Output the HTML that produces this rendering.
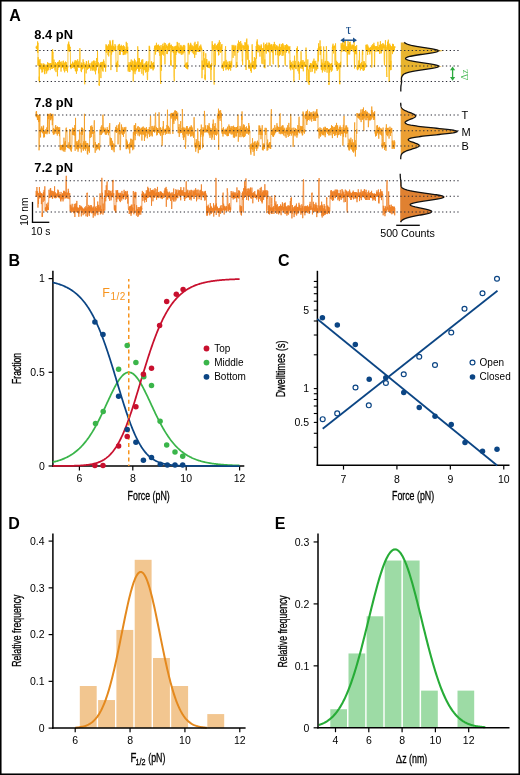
<!DOCTYPE html>
<html><head><meta charset="utf-8"><style>
html,body{margin:0;padding:0;background:#fff;}
svg{display:block;will-change:transform;}
</style></head><body>
<svg width="520" height="775" viewBox="0 0 520 775" font-family='"Liberation Sans", sans-serif'>
<rect width="520" height="775" fill="#fff"/>
<rect x="0.75" y="0.75" width="518.5" height="773.5" fill="none" stroke="#000" stroke-width="1.6"/>
<text x="9.20" y="20.80" font-size="16" text-anchor="start" font-weight="bold" fill="#000" font-family='"Liberation Sans", sans-serif' >A</text>
<text x="8.40" y="266.10" font-size="16" text-anchor="start" font-weight="bold" fill="#000" font-family='"Liberation Sans", sans-serif' >B</text>
<text x="277.90" y="266.20" font-size="16" text-anchor="start" font-weight="bold" fill="#000" font-family='"Liberation Sans", sans-serif' >C</text>
<text x="8.30" y="528.70" font-size="16" text-anchor="start" font-weight="bold" fill="#000" font-family='"Liberation Sans", sans-serif' >D</text>
<text x="274.80" y="528.70" font-size="16" text-anchor="start" font-weight="bold" fill="#000" font-family='"Liberation Sans", sans-serif' >E</text>
<polyline points="36.00,47.7 36.18,46.6 36.36,48.6 36.54,46.9 36.72,48.7 36.90,45.7 37.08,47.5 37.26,47.7 37.44,51.9 37.62,41.4 37.80,52.9 37.98,42.9 38.00,65.6 38.18,57.2 38.36,65.4 38.54,60.5 38.72,65.8 38.90,62.6 39.08,80.8 39.26,76.6 39.44,82.4 39.62,60.3 39.80,65.8 39.98,59.0 40.16,69.1 40.34,63.9 40.52,67.9 40.70,63.2 40.88,67.6 41.06,64.2 41.24,69.5 41.42,65.3 41.60,69.5 41.78,63.5 41.96,72.6 42.14,66.1 42.32,68.6 42.50,65.5 42.68,72.0 42.86,66.1 43.04,67.3 43.22,63.5 43.40,68.5 43.58,65.1 43.76,69.3 43.94,63.7 44.12,69.1 44.30,66.1 44.48,73.5 44.66,64.4 44.84,74.2 45.02,65.2 45.20,68.6 45.38,66.4 45.56,68.8 45.74,67.0 45.92,70.8 46.10,64.6 46.28,67.8 46.46,65.4 46.64,73.5 46.82,66.2 47.00,69.8 47.18,64.8 47.36,69.6 47.54,62.2 47.72,71.2 47.90,65.9 48.08,69.8 48.26,65.2 48.44,69.6 48.62,62.9 48.80,67.5 48.98,66.8 49.16,67.4 49.34,65.9 49.52,66.7 49.70,63.3 49.88,67.5 50.06,64.3 50.24,70.1 50.42,63.0 50.60,67.4 50.78,64.9 50.96,66.8 51.14,64.6 51.32,68.8 51.50,63.4 51.68,65.0 51.86,63.1 52.04,56.1 52.22,50.2 52.40,68.8 52.58,49.1 52.76,53.4 52.94,52.3 53.12,52.3 53.30,58.3 53.48,68.1 53.66,62.1 53.84,64.6 54.02,59.6 54.20,65.8 54.38,64.1 54.56,67.4 54.74,64.5 54.92,70.4 55.10,64.9 55.28,68.3 55.46,62.1 55.64,65.9 55.82,64.0 56.00,72.1 56.18,63.3 56.36,66.5 56.54,64.6 56.72,66.4 56.90,65.4 57.08,66.2 57.26,63.7 57.44,76.3 57.62,62.1 57.80,69.8 57.98,62.2 58.16,65.9 58.34,65.4 58.52,67.6 58.70,62.4 58.88,67.7 59.06,61.4 59.24,65.5 59.42,60.1 59.60,67.0 59.78,64.6 59.96,66.4 60.14,65.5 60.32,66.2 60.50,61.8 60.68,65.8 60.86,64.1 61.04,71.6 61.22,62.7 61.40,68.2 61.58,65.6 61.76,66.8 61.94,61.3 62.12,65.8 62.30,63.6 62.48,67.5 62.66,65.0 62.84,66.6 63.02,65.1 63.20,66.9 63.38,60.7 63.56,68.6 63.74,63.6 63.92,70.5 64.10,65.3 64.28,66.8 64.46,62.9 64.64,72.3 64.82,65.3 65.00,66.6 65.18,62.0 65.36,68.8 65.54,61.5 65.72,68.6 65.90,66.3 66.08,71.0 66.26,62.1 66.44,69.2 66.62,64.6 66.80,66.6 66.98,65.5 67.16,66.5 67.34,66.2 67.52,72.4 67.70,66.2 67.88,67.4 68.00,44.4 68.18,50.8 68.36,43.4 68.54,50.9 68.72,41.6 68.90,51.1 69.08,48.2 69.26,51.8 69.44,44.6 69.62,51.3 69.80,46.5 69.98,48.3 70.16,47.1 70.34,52.8 70.50,64.8 70.68,67.8 70.86,64.2 71.04,69.1 71.22,63.7 71.40,67.3 71.58,64.1 71.76,65.7 71.94,64.3 72.12,67.9 72.30,64.0 72.48,64.9 72.66,61.7 72.84,67.7 73.02,62.7 73.20,66.5 73.38,63.5 73.56,66.7 73.74,64.6 73.92,64.8 74.10,65.0 74.28,68.6 74.46,61.6 74.64,67.2 74.82,62.5 75.00,67.2 75.18,60.0 75.36,71.0 75.54,65.3 75.72,71.4 75.90,61.5 76.08,67.6 76.26,60.6 76.44,73.8 76.62,61.7 76.80,70.0 76.98,62.6 77.16,71.2 77.34,64.8 77.52,65.5 77.70,59.3 77.88,65.3 78.06,64.9 78.24,65.9 78.42,63.3 78.60,67.3 78.78,61.3 78.96,67.7 79.14,65.5 79.32,67.5 79.50,64.9 79.68,56.2 79.86,48.2 80.04,52.5 80.22,64.8 80.40,67.6 80.58,64.7 80.76,67.4 80.94,66.0 81.12,71.2 81.30,62.5 81.48,72.1 81.66,66.2 81.84,67.6 82.02,63.2 82.20,68.9 82.38,65.0 82.56,69.3 82.74,66.0 82.92,67.3 83.10,59.3 83.28,67.0 83.46,63.2 83.64,67.4 83.82,62.0 84.00,68.5 84.18,63.8 84.36,66.4 84.54,66.3 84.72,84.3 84.90,64.4 85.08,67.9 85.26,65.3 85.44,67.1 85.62,65.6 85.80,67.2 85.98,63.4 86.16,73.4 86.34,61.2 86.52,67.4 86.70,61.5 86.88,67.0 87.06,64.8 87.24,69.8 87.42,64.6 87.60,69.1 87.78,65.4 87.96,66.9 88.14,65.7 88.32,68.0 88.50,60.5 88.68,68.8 88.86,64.7 89.04,67.7 89.22,64.2 89.40,67.9 89.58,66.1 89.76,66.9 89.94,63.2 90.12,67.7 90.30,66.0 90.48,68.4 90.66,66.9 90.84,70.8 91.02,66.2 91.20,66.5 91.38,62.7 91.56,66.6 91.74,64.1 91.92,69.3 92.10,61.5 92.28,68.0 92.46,64.1 92.64,70.6 92.82,65.2 93.00,69.2 93.18,61.4 93.36,67.0 93.54,61.2 93.72,70.4 93.90,60.3 94.08,67.8 94.26,62.3 94.44,67.5 94.62,65.6 94.80,71.4 94.98,61.0 95.16,68.5 95.34,64.2 95.52,74.3 95.70,63.6 95.88,67.5 96.06,63.0 96.24,70.4 96.42,60.3 96.60,58.0 96.78,63.1 96.96,67.2 97.14,65.0 97.32,66.9 97.50,50.3 97.68,66.3 97.86,62.7 98.04,66.1 98.22,62.2 98.40,67.9 98.58,73.3 98.76,68.5 98.94,84.8 99.12,83.7 99.30,85.9 99.48,84.2 99.66,65.3 99.84,67.7 100.02,63.4 100.20,66.1 100.38,63.8 100.56,66.7 100.74,62.2 100.92,78.1 101.10,64.5 101.28,67.7 101.46,64.0 101.64,65.5 101.82,61.9 102.00,69.0 102.18,62.3 102.36,70.6 102.54,62.1 102.72,67.0 102.90,62.5 103.08,71.6 103.26,61.5 103.44,65.7 103.62,59.5 103.80,65.0 103.98,61.2 104.16,66.5 104.34,64.1 104.52,67.7 104.70,63.4 104.88,66.4 105.06,64.1 105.24,67.8 105.42,65.7 105.60,71.7 105.78,65.2 105.96,67.3 106.00,44.3 106.18,52.3 106.36,46.2 106.54,52.6 106.72,44.9 106.90,50.2 107.08,47.6 107.26,50.1 107.44,46.3 107.62,49.7 107.80,48.9 107.98,55.1 108.16,46.0 108.34,51.1 108.52,44.3 108.70,56.4 108.88,45.3 109.06,49.8 109.24,45.6 109.42,50.8 109.60,46.8 109.78,52.5 109.96,40.3 110.14,49.3 110.32,41.6 110.50,51.1 110.68,43.8 110.86,70.1 111.04,67.7 111.22,48.0 111.40,46.8 111.58,54.6 111.76,45.7 111.94,48.6 112.12,45.6 112.30,48.7 112.48,41.0 112.66,52.2 112.84,39.9 113.02,51.5 113.20,47.3 113.38,48.9 113.56,45.9 113.74,49.7 113.92,48.1 114.10,48.8 114.28,47.1 114.46,49.5 114.64,48.0 114.82,51.0 115.00,44.1 115.18,50.4 115.36,45.8 115.54,50.1 115.72,45.7 115.90,50.0 116.00,65.5 116.18,67.2 116.36,62.6 116.54,66.1 116.72,62.9 116.90,72.0 117.08,63.8 117.26,66.1 117.44,60.8 117.62,67.1 117.80,64.1 117.98,67.1 118.00,45.9 118.18,50.1 118.36,44.6 118.54,50.1 118.72,47.3 118.90,48.7 119.08,45.8 119.26,48.5 119.44,43.9 119.62,54.9 119.80,47.5 119.98,50.7 120.16,48.4 120.34,54.7 120.52,46.0 120.70,49.4 120.88,46.0 121.06,51.9 121.24,44.8 121.42,49.0 121.60,46.2 121.78,49.3 121.96,47.7 122.14,50.8 122.32,46.1 122.50,51.9 122.68,48.7 122.86,51.8 123.04,48.9 123.22,55.1 123.40,45.2 123.58,54.8 123.76,46.0 123.94,55.0 124.12,46.3 124.30,52.5 124.48,49.4 124.66,54.2 124.84,47.1 125.02,52.7 125.20,50.1 125.38,51.7 125.56,49.0 125.74,54.5 125.92,49.1 126.10,52.8 126.28,41.8 126.46,50.9 126.64,48.9 126.82,51.1 127.00,43.0 127.18,53.3 127.36,48.5 127.54,52.1 127.72,46.7 127.90,52.0 128.00,67.1 128.18,71.4 128.36,64.6 128.54,68.9 128.72,64.9 128.90,70.0 129.08,62.1 129.26,71.9 129.44,65.1 129.62,67.5 129.80,66.5 129.98,71.9 130.16,63.5 130.34,66.0 130.52,61.9 130.70,66.0 130.88,64.2 131.06,65.8 131.24,59.5 131.42,70.1 131.60,63.1 131.78,68.8 131.96,65.2 132.14,67.6 132.32,62.5 132.50,70.5 132.68,60.7 132.86,67.0 133.04,61.4 133.22,81.5 133.40,65.2 133.58,69.3 133.76,64.4 133.94,72.3 134.12,65.2 134.30,69.1 134.48,58.8 134.66,70.6 134.84,62.6 135.02,74.2 135.20,60.3 135.38,71.1 135.56,62.3 135.74,71.4 135.92,65.5 136.10,70.2 136.28,63.3 136.46,69.8 136.64,65.4 136.82,66.6 137.00,61.9 137.18,67.4 137.36,61.0 137.54,68.7 137.72,46.3 137.90,49.5 138.08,65.6 138.26,68.8 138.44,61.4 138.62,71.6 138.80,58.0 138.98,69.6 139.16,65.8 139.34,67.1 139.52,58.2 139.70,71.7 139.88,63.0 140.06,69.0 140.24,63.7 140.42,68.7 140.60,62.5 140.78,65.6 140.96,62.5 141.14,66.6 141.32,64.8 141.50,66.9 141.68,60.4 141.86,73.7 142.04,59.6 142.22,69.1 142.40,63.3 142.58,66.0 142.76,59.3 142.94,67.0 143.12,64.7 143.30,75.4 143.48,64.8 143.66,70.0 143.84,65.6 144.02,68.1 144.20,63.4 144.38,66.7 144.56,64.9 144.74,69.8 144.92,65.1 145.10,70.4 145.28,66.4 145.46,72.5 145.64,62.5 145.82,67.9 146.00,65.4 146.18,67.8 146.36,61.0 146.54,71.8 146.72,62.3 146.90,64.9 147.08,71.7 147.26,78.5 147.44,80.1 147.62,79.2 147.80,63.9 147.98,71.9 148.16,61.3 148.34,65.7 148.52,63.6 148.70,70.3 148.88,65.0 149.06,50.0 149.24,45.8 149.42,50.3 149.60,46.6 149.78,48.8 149.96,65.7 150.14,67.9 150.32,65.3 150.50,67.4 150.68,65.8 150.86,69.1 151.04,64.7 151.22,66.3 151.40,61.3 151.58,68.4 151.76,61.8 151.94,67.8 152.12,64.9 152.30,67.6 152.48,63.0 152.66,68.4 152.84,63.6 153.02,70.4 153.20,65.0 153.38,69.5 153.56,62.1 153.74,67.2 153.92,65.7 154.10,68.5 154.28,48.1 154.46,48.4 154.64,45.8 154.82,49.3 155.00,46.7 155.18,51.1 155.36,45.3 155.54,54.5 155.72,46.4 155.90,49.4 156.08,45.9 156.26,48.6 156.44,42.8 156.62,49.6 156.80,46.2 156.98,51.9 157.16,47.6 157.34,50.7 157.52,45.6 157.70,50.3 157.88,45.2 158.06,51.1 158.24,44.6 158.42,49.5 158.60,44.9 158.78,48.7 158.96,45.8 159.14,52.7 159.32,46.0 159.50,49.5 159.68,48.0 159.86,55.8 160.04,46.5 160.22,69.5 160.40,78.0 160.58,82.1 160.76,84.0 160.94,51.1 161.00,45.0 161.18,69.1 161.36,70.7 161.54,49.8 161.72,48.8 161.90,51.8 162.08,47.5 162.26,50.0 162.44,46.0 162.62,54.6 162.80,43.8 162.98,52.0 163.16,48.3 163.34,49.9 163.52,46.5 163.70,55.5 163.88,46.0 164.06,49.8 164.24,42.7 164.42,50.3 164.60,45.2 164.78,48.9 164.96,64.4 165.14,48.5 165.32,43.1 165.50,50.0 165.68,47.1 165.86,47.3 166.04,46.8 166.22,48.0 166.40,44.7 166.58,47.6 166.76,47.2 166.94,54.0 167.12,45.9 167.30,54.1 167.48,46.6 167.66,48.0 167.84,46.9 168.02,49.9 168.20,44.3 168.38,48.7 168.56,44.8 168.74,51.3 168.92,43.3 169.10,48.2 169.28,45.6 169.46,49.9 169.64,42.8 169.82,48.0 170.00,45.8 170.18,47.9 170.36,44.9 170.54,62.5 170.72,64.8 170.90,60.2 171.08,66.1 171.26,52.6 171.44,44.7 171.62,49.5 171.80,47.8 171.98,52.2 172.16,46.0 172.34,50.2 172.52,47.3 172.70,50.9 172.88,46.2 173.06,48.5 173.24,47.2 173.42,53.1 173.60,48.6 173.78,49.7 173.96,76.5 174.14,78.7 174.32,81.3 174.50,49.4 174.68,46.5 174.86,50.5 175.04,46.5 175.22,59.6 175.40,68.8 175.58,62.5 175.76,46.2 175.94,55.0 176.12,45.7 176.30,50.3 176.48,48.3 176.66,52.8 176.84,45.8 177.02,50.2 177.20,41.9 177.38,49.4 177.56,42.7 177.74,51.5 177.92,45.9 178.10,50.2 178.28,47.6 178.46,51.5 178.64,47.1 178.82,53.2 179.00,42.9 179.18,49.3 179.36,47.8 179.54,53.3 179.72,48.6 179.90,50.6 180.08,48.3 180.26,48.9 180.44,46.7 180.62,53.4 180.80,44.9 180.98,51.3 181.16,45.7 181.34,54.9 181.52,48.2 181.70,50.1 181.88,47.1 182.06,53.0 182.24,46.5 182.42,51.2 182.60,48.2 182.78,54.5 182.96,48.2 183.14,53.3 183.32,45.2 183.50,49.7 183.68,48.6 183.86,51.9 184.04,44.9 184.22,52.5 184.40,47.9 184.58,48.9 184.76,45.7 184.94,51.3 185.00,63.6 185.18,67.0 185.36,64.0 185.54,67.6 185.72,63.9 185.90,66.2 186.08,62.7 186.26,67.8 186.44,65.3 186.62,68.2 186.80,63.0 186.98,68.8 187.16,62.2 187.34,68.6 187.52,64.2 187.70,69.3 187.88,64.5 188.00,50.1 188.18,43.4 188.36,50.7 188.54,42.9 188.72,52.3 188.90,47.5 189.08,54.5 189.26,46.5 189.44,53.1 189.62,47.6 189.80,50.8 189.98,45.0 190.16,48.3 190.34,43.9 190.52,51.3 190.70,42.8 190.88,49.7 191.06,44.4 191.24,50.8 191.42,48.6 191.60,48.9 191.78,46.5 191.96,51.2 192.14,45.2 192.32,52.7 192.50,46.7 192.68,50.9 192.86,47.1 193.04,49.1 193.22,46.1 193.40,54.2 193.58,47.2 193.76,49.0 193.94,47.9 194.12,50.4 194.30,43.3 194.48,51.0 194.66,57.9 194.84,50.4 195.02,41.8 195.20,48.1 195.38,45.7 195.56,51.7 195.74,45.3 195.92,54.8 196.10,46.0 196.28,52.0 196.46,44.1 196.64,48.5 196.82,45.9 197.00,51.5 197.18,46.7 197.36,47.9 197.54,44.5 197.72,50.7 197.90,41.5 198.08,51.9 198.26,48.1 198.44,51.7 198.62,48.0 198.80,51.8 198.98,47.5 199.16,48.7 199.34,48.1 199.52,50.6 199.70,45.8 199.88,52.1 200.06,46.7 200.24,48.7 200.42,46.9 200.60,49.0 200.78,44.6 200.96,51.0 201.14,46.6 201.32,49.9 201.50,48.1 201.68,49.7 201.86,48.7 202.00,78.2 202.18,60.5 202.36,69.7 202.54,65.0 202.72,66.3 202.90,64.2 203.08,69.6 203.26,62.9 203.44,52.2 203.62,55.7 203.80,51.4 203.98,61.3 204.16,67.4 204.34,58.4 204.52,67.0 204.70,60.6 204.88,79.2 205.06,74.6 205.24,80.2 205.42,79.4 205.60,66.2 205.78,53.3 205.96,64.9 206.14,62.4 206.32,64.7 206.50,59.3 206.68,65.5 206.86,59.2 207.04,66.8 207.22,64.2 207.40,65.0 207.58,63.2 207.76,67.6 207.94,64.0 208.12,66.4 208.30,64.5 208.48,66.9 208.66,62.8 208.84,68.0 209.02,60.9 209.20,67.6 209.38,62.3 209.56,66.7 209.74,64.6 209.92,68.3 210.10,64.4 210.28,67.5 210.46,65.4 210.64,66.7 210.82,76.1 211.00,80.2 211.18,64.9 211.36,69.8 211.54,63.0 211.72,66.0 211.90,65.3 212.00,48.0 212.18,41.2 212.36,48.2 212.54,44.2 212.72,51.0 212.90,46.8 213.08,48.6 213.26,45.0 213.44,49.4 213.62,47.0 213.80,52.4 213.98,81.4 214.16,84.6 214.34,45.5 214.52,48.9 214.70,43.9 214.88,47.1 215.06,43.5 215.24,62.1 215.42,65.3 215.60,47.1 215.78,47.3 215.96,48.5 216.14,45.3 216.32,48.0 216.50,46.4 216.68,49.9 216.86,45.5 217.04,47.3 217.22,47.0 217.40,51.5 217.58,44.0 217.76,50.8 217.94,46.7 218.12,50.0 218.30,42.6 218.48,55.4 218.66,47.2 218.84,55.0 219.02,42.9 219.20,51.8 219.38,40.3 219.56,48.5 219.74,46.2 219.92,50.1 220.10,42.1 220.28,49.0 220.46,47.3 220.64,52.9 220.82,47.0 221.00,51.9 221.18,46.9 221.36,51.8 221.54,45.2 221.72,49.5 221.90,44.0 222.00,68.2 222.18,65.5 222.36,68.5 222.54,63.7 222.72,66.7 222.90,65.5 223.08,67.3 223.26,65.4 223.44,70.9 223.62,61.6 223.80,67.1 223.98,64.8 224.16,66.4 224.34,61.3 224.52,66.3 224.70,62.1 224.88,67.6 225.06,51.1 225.24,48.9 225.42,48.6 225.60,46.2 225.78,63.6 225.96,70.2 226.14,59.9 226.32,66.2 226.50,63.2 226.68,66.4 226.86,62.7 227.04,68.8 227.22,61.7 227.40,67.2 227.58,65.1 227.76,69.2 227.94,65.3 228.12,66.6 228.30,64.3 228.48,70.3 228.66,64.6 228.84,69.3 229.02,61.4 229.20,67.4 229.38,64.2 229.56,68.8 229.74,61.3 229.92,66.8 230.10,64.2 230.28,66.9 230.46,62.9 230.64,70.6 230.82,64.1 231.00,66.7 231.18,60.8 231.36,67.4 231.54,62.1 231.72,67.5 231.90,63.8 232.00,49.1 232.18,44.9 232.36,49.9 232.54,46.2 232.72,50.7 232.90,47.2 233.08,57.9 233.26,45.6 233.44,50.3 233.62,46.7 233.80,50.3 233.98,44.9 234.16,52.4 234.34,48.1 234.52,51.5 234.70,46.5 234.88,55.7 235.06,47.8 235.24,49.9 235.42,46.0 235.60,48.7 235.78,45.4 235.96,49.3 236.00,64.8 236.18,67.8 236.36,64.0 236.54,66.2 236.72,62.0 236.90,66.9 237.08,60.7 237.26,53.2 237.44,46.5 237.62,52.7 237.80,43.6 237.98,52.5 238.16,46.8 238.34,48.2 238.52,40.6 238.70,49.6 238.88,44.2 239.06,49.7 239.24,44.0 239.42,49.0 239.60,42.0 239.78,47.3 239.96,44.9 240.14,51.3 240.32,44.9 240.50,50.4 240.68,41.0 240.86,47.5 241.04,45.5 241.22,50.5 241.40,47.0 241.58,49.4 241.76,43.5 241.94,50.4 242.12,57.0 242.30,61.3 242.48,59.4 242.66,65.1 242.84,45.1 243.02,48.1 243.20,46.0 243.38,47.8 243.56,45.6 243.74,50.3 243.92,46.0 244.10,48.8 244.28,45.8 244.46,48.8 244.64,48.2 244.82,49.8 245.00,42.1 245.18,48.9 245.36,42.8 245.54,50.2 245.72,61.9 245.90,68.1 246.08,70.0 246.26,68.0 246.44,39.9 246.62,52.6 246.80,38.6 246.98,50.6 247.16,46.8 247.34,59.7 247.52,45.1 247.70,50.0 247.88,44.5 248.06,49.3 248.24,45.9 248.42,51.9 248.60,65.7 248.78,68.5 248.96,65.0 249.14,67.4 249.32,60.2 249.50,68.3 249.68,66.2 249.86,67.0 250.04,65.7 250.22,68.7 250.40,66.2 250.58,71.0 250.76,63.7 250.94,70.7 251.12,62.5 251.30,72.7 251.48,66.1 251.66,68.0 251.84,66.0 252.02,45.4 252.20,44.3 252.38,49.1 252.56,63.3 252.74,68.1 252.92,63.8 253.10,66.0 253.28,61.1 253.46,66.8 253.64,64.4 253.82,68.6 254.00,65.6 254.18,69.5 254.36,57.1 254.54,66.2 254.72,60.5 254.90,69.0 255.08,65.4 255.26,67.0 255.44,58.3 255.62,68.7 255.80,64.3 255.98,65.4 256.16,46.0 256.34,51.9 256.52,58.6 256.70,49.3 256.88,41.5 257.06,51.3 257.24,39.4 257.42,49.7 257.60,44.2 257.78,51.1 257.96,47.5 258.14,52.4 258.32,47.0 258.50,48.9 258.68,44.8 258.86,50.5 259.04,47.9 259.22,49.6 259.40,46.8 259.58,49.7 259.76,45.6 259.94,56.6 260.12,45.9 260.30,51.8 260.48,48.7 260.66,49.9 260.84,48.0 261.02,49.2 261.20,44.4 261.38,49.8 261.56,45.7 261.74,59.7 261.92,63.7 262.10,49.4 262.28,48.4 262.46,50.0 262.64,48.1 262.82,48.4 263.00,64.2 263.18,50.1 263.36,47.9 263.54,52.3 263.72,42.7 263.90,51.6 264.08,64.5 264.26,67.8 264.44,67.0 264.62,64.8 264.80,59.5 264.98,68.2 265.00,45.3 265.18,50.2 265.36,44.4 265.54,48.5 265.72,44.0 265.90,51.3 266.08,45.0 266.26,53.6 266.44,45.8 266.62,49.2 266.80,42.7 266.98,51.0 267.16,46.4 267.34,48.9 267.52,46.2 267.70,50.3 267.88,44.9 268.06,48.5 268.24,47.4 268.42,51.8 268.60,45.2 268.78,52.2 268.96,42.5 269.14,50.0 269.32,43.1 269.50,49.9 269.68,43.5 269.86,64.0 270.04,65.9 270.22,51.9 270.40,44.7 270.58,50.1 270.76,46.7 270.94,49.0 271.12,44.9 271.30,48.5 271.48,44.6 271.66,51.9 271.84,44.2 272.02,49.4 272.20,45.7 272.38,53.0 272.56,47.3 272.74,49.2 272.92,60.5 273.10,64.0 273.28,64.3 273.46,47.8 273.64,44.2 273.82,50.7 274.00,45.2 274.18,48.4 274.36,41.9 274.54,47.5 274.72,44.4 274.90,49.7 275.08,44.2 275.26,50.3 275.44,47.1 275.62,55.2 275.80,47.7 275.98,48.2 276.16,46.7 276.34,49.6 276.52,45.3 276.70,49.3 276.88,48.0 277.06,49.7 277.24,45.7 277.42,55.1 277.60,47.3 277.78,52.4 277.96,61.4 278.14,66.4 278.32,67.5 278.50,67.3 278.68,46.5 278.86,50.1 279.04,49.3 279.22,55.7 279.40,44.5 279.58,55.3 279.76,43.8 279.94,49.7 280.12,48.6 280.30,54.7 280.48,46.9 280.66,52.1 280.84,49.3 281.02,50.1 281.20,47.8 281.38,51.1 281.56,44.3 281.74,51.1 281.92,47.3 282.10,56.0 282.28,46.0 282.46,50.3 282.64,43.3 282.82,53.5 283.00,43.8 283.18,55.5 283.36,47.9 283.54,48.3 283.72,46.6 283.90,52.5 284.08,45.1 284.26,49.0 284.44,47.7 284.62,48.3 284.80,56.9 284.98,64.0 285.16,64.3 285.34,65.7 285.52,45.3 285.70,50.8 285.88,45.2 286.06,49.6 286.24,46.6 286.42,52.6 286.60,44.2 286.78,50.7 286.96,44.9 287.14,48.3 287.32,45.5 287.50,50.3 287.68,46.1 287.86,50.4 288.04,45.8 288.22,49.0 288.40,46.9 288.58,48.2 288.76,47.2 288.94,53.4 289.12,47.0 289.30,51.5 289.48,47.2 289.66,49.7 289.84,46.2 290.00,68.7 290.18,60.3 290.36,66.9 290.54,65.3 290.72,70.3 290.90,63.0 291.08,67.9 291.26,61.9 291.44,68.2 291.62,64.8 291.80,66.1 291.98,64.4 292.16,65.7 292.34,63.7 292.52,69.5 292.70,65.0 292.88,66.2 293.06,60.8 293.24,67.5 293.42,64.8 293.60,66.9 293.78,78.6 293.96,82.1 294.14,65.3 294.32,67.4 294.50,55.7 294.68,67.5 294.86,63.4 295.04,67.6 295.22,60.9 295.40,65.7 295.58,64.9 295.76,68.8 295.94,65.0 296.12,69.2 296.30,64.1 296.48,53.2 296.66,48.5 296.84,53.3 297.02,48.0 297.20,51.6 297.38,46.4 297.56,51.8 297.74,62.3 297.92,71.2 298.10,62.2 298.28,66.5 298.46,61.3 298.64,67.6 298.82,62.0 299.00,73.7 299.18,66.4 299.36,80.0 299.54,64.8 299.72,67.8 299.90,63.9 300.08,68.5 300.26,62.8 300.44,68.0 300.62,61.4 300.80,65.8 300.98,51.3 301.16,53.1 301.34,64.4 301.52,65.2 301.70,61.9 301.88,68.6 302.06,60.2 302.24,68.8 302.42,63.8 302.60,66.5 302.78,62.2 302.96,66.9 303.14,60.1 303.32,71.3 303.50,63.3 303.68,66.1 303.86,64.2 304.04,65.8 304.22,61.9 304.40,66.4 304.58,61.8 304.76,66.5 304.94,64.9 305.12,65.7 305.30,64.4 305.48,66.8 305.66,63.6 305.84,57.4 306.02,47.6 306.20,53.5 306.38,54.4 306.56,76.2 306.74,81.4 306.92,81.8 307.10,65.8 307.28,70.1 307.46,65.9 307.64,67.1 307.82,59.4 308.00,77.7 308.18,82.0 308.36,83.4 308.54,79.7 308.72,69.5 308.90,76.6 309.08,85.0 309.26,80.9 309.44,66.5 309.62,66.1 309.80,69.0 309.98,65.6 310.16,68.1 310.34,63.2 310.52,66.6 310.70,64.7 310.88,72.1 311.06,63.0 311.24,68.2 311.42,65.2 311.60,67.0 311.78,64.6 311.96,66.7 312.14,64.4 312.32,71.6 312.50,64.3 312.68,68.5 312.86,61.6 313.04,68.2 313.22,60.7 313.40,68.0 313.58,64.7 313.76,68.5 313.94,58.6 314.12,67.7 314.30,62.3 314.48,66.9 314.66,61.1 314.84,73.3 315.02,62.7 315.20,68.5 315.38,65.1 315.56,67.6 315.74,60.8 315.92,70.3 316.10,63.6 316.28,67.1 316.46,63.8 316.64,70.4 316.82,66.1 317.00,68.2 317.18,66.4 317.36,67.0 317.54,65.9 317.72,69.0 317.90,57.3 318.08,48.4 318.26,61.4 318.44,48.5 318.62,43.3 318.80,49.3 318.98,46.4 319.16,50.8 319.34,47.0 319.52,49.8 319.70,47.1 319.88,49.3 320.06,40.4 320.24,55.1 320.42,47.0 320.60,53.5 320.78,46.1 320.96,48.5 321.14,64.8 321.32,69.6 321.50,63.1 321.68,67.4 321.86,59.3 322.04,70.2 322.22,62.6 322.40,72.5 322.58,65.9 322.76,67.3 322.94,63.9 323.12,70.5 323.30,64.3 323.48,53.3 323.66,46.5 323.84,49.4 324.02,62.3 324.20,68.8 324.38,63.1 324.56,66.2 324.74,65.2 324.92,71.8 325.10,61.5 325.28,66.2 325.46,60.9 325.64,69.9 325.82,63.8 326.00,67.1 326.18,57.8 326.36,46.2 326.54,49.7 326.72,50.8 326.90,64.3 327.08,72.7 327.26,61.2 327.44,65.7 327.62,62.8 327.80,69.1 327.98,61.2 328.16,68.1 328.34,62.6 328.52,65.9 328.70,82.1 328.88,85.0 329.06,83.4 329.24,84.2 329.42,62.7 329.60,72.6 329.78,64.1 329.96,68.2 330.14,65.6 330.32,70.1 330.50,63.8 330.68,66.4 330.86,64.1 331.04,68.7 331.22,63.8 331.40,71.7 331.58,63.0 331.76,70.2 331.94,65.6 332.12,70.5 332.30,47.5 332.48,48.2 332.66,45.5 332.84,49.7 333.02,43.7 333.20,48.0 333.38,47.0 333.56,53.4 333.74,46.3 333.92,50.7 334.10,46.3 334.28,48.0 334.46,46.0 334.64,48.0 334.82,45.5 335.00,65.1 335.18,62.5 335.36,47.4 335.54,43.4 335.72,49.4 335.90,60.4 336.08,66.8 336.26,63.5 336.44,66.6 336.62,60.8 336.80,68.8 336.98,64.4 337.16,70.9 337.34,62.0 337.52,70.5 337.70,64.2 337.88,66.4 338.06,65.2 338.24,67.3 338.42,66.0 338.60,69.4 338.78,63.6 338.96,67.4 339.14,62.9 339.32,69.6 339.50,83.9 339.68,80.6 339.86,84.3 340.04,65.7 340.22,63.7 340.40,66.7 340.58,61.8 340.76,67.4 340.94,63.3 341.00,47.9 341.18,43.1 341.36,48.0 341.54,44.7 341.72,52.1 341.90,45.1 342.08,48.3 342.26,46.9 342.44,48.4 342.62,43.0 342.80,50.0 342.98,41.5 343.16,51.3 343.34,44.7 343.52,49.2 343.70,47.2 343.88,49.5 344.06,45.0 344.24,49.9 344.42,45.9 344.60,48.5 344.78,41.3 344.96,50.9 345.14,47.1 345.32,51.9 345.50,40.8 345.68,50.3 345.86,47.6 346.04,50.5 346.22,48.3 346.40,50.4 346.58,46.8 346.76,52.3 346.94,46.1 347.12,62.3 347.30,67.0 347.48,51.6 347.66,47.8 347.84,49.8 348.02,40.6 348.20,54.5 348.38,44.1 348.56,53.1 348.74,46.3 348.92,51.0 349.10,48.1 349.28,50.0 349.46,42.1 349.64,54.5 349.82,46.1 350.00,51.8 350.18,41.7 350.36,49.0 350.54,44.1 350.72,49.2 350.90,45.7 351.08,50.1 351.26,46.9 351.44,47.9 351.62,46.6 351.80,49.0 351.98,44.6 352.16,48.1 352.34,46.6 352.52,48.3 352.70,44.8 352.88,49.6 353.06,45.5 353.24,51.7 353.42,45.0 353.60,47.1 353.78,45.7 353.96,52.1 354.14,41.6 354.32,60.4 354.50,68.4 354.68,50.3 354.86,46.9 355.04,53.3 355.22,46.5 355.40,51.8 355.58,46.2 355.76,54.1 355.94,47.7 356.12,54.3 356.30,47.9 356.48,51.2 356.66,45.1 356.84,53.0 357.00,65.1 357.18,69.4 357.36,65.9 357.54,70.2 357.72,65.1 357.90,67.4 358.08,64.9 358.26,67.5 358.44,65.2 358.62,69.3 358.80,60.5 358.98,67.6 359.16,64.9 359.34,55.8 359.52,51.3 359.70,67.5 359.88,64.4 360.06,65.8 360.24,63.8 360.42,70.4 360.60,65.2 360.78,68.8 360.96,63.3 361.14,69.1 361.32,63.6 361.50,66.7 361.68,62.0 361.86,68.8 362.04,65.1 362.22,53.2 362.40,49.8 362.58,54.9 362.76,51.2 362.94,70.4 363.12,64.9 363.30,67.0 363.48,64.0 363.66,70.9 363.84,61.2 364.02,67.3 364.20,61.4 364.38,70.0 364.56,64.8 364.74,67.9 364.92,63.8 365.10,65.8 365.28,63.2 365.46,66.7 365.64,63.9 365.82,67.4 366.00,44.8 366.18,49.6 366.36,45.2 366.54,50.0 366.72,46.9 366.90,49.5 367.08,44.3 367.26,51.9 367.44,46.7 367.62,54.9 367.80,45.4 367.98,50.8 368.16,46.7 368.34,50.8 368.52,48.6 368.70,51.9 368.88,48.4 369.06,50.5 369.24,48.1 369.42,51.8 369.60,48.5 369.78,54.4 369.96,47.9 370.14,51.2 370.32,47.0 370.50,52.1 370.68,48.3 370.86,50.7 371.04,47.7 371.22,49.4 371.40,45.5 371.58,50.8 371.76,67.6 371.94,64.5 372.12,48.0 372.30,49.5 372.48,45.6 372.66,50.2 372.84,44.0 373.02,49.5 373.20,47.7 373.38,48.7 373.56,45.4 373.74,48.3 373.92,42.8 374.10,50.8 374.28,45.3 374.46,64.1 374.64,67.1 374.82,52.3 375.00,46.4 375.18,49.1 375.36,46.8 375.54,48.5 375.72,46.3 375.90,51.8 376.08,47.9 376.26,49.5 376.44,46.2 376.62,50.1 376.80,47.9 376.98,51.3 377.16,46.0 377.34,51.3 377.52,48.3 377.70,49.2 377.88,41.8 378.06,48.4 378.24,47.3 378.42,48.6 378.60,47.3 378.78,51.5 378.96,47.4 379.14,48.3 379.32,44.8 379.50,53.8 379.68,45.4 379.86,47.5 380.04,45.3 380.22,50.1 380.40,41.2 380.58,48.0 380.76,44.4 380.94,53.6 381.12,45.1 381.30,52.9 381.48,47.8 381.66,51.5 381.84,44.0 382.02,49.5 382.20,46.6 382.38,47.7 382.56,46.2 382.74,50.0 382.92,43.0 383.10,47.9 383.28,44.2 383.46,48.3 383.64,45.8 383.82,47.8 384.00,44.9 384.18,59.8 384.36,63.9 384.54,65.3 384.72,46.5 384.90,47.8 385.08,44.4 385.26,50.4 385.44,40.2 385.62,48.1 385.80,45.7 385.98,51.2 386.16,47.0 386.34,50.3 386.52,71.3 386.70,75.2 386.88,77.0 387.06,52.8 387.24,45.0 387.42,49.7 387.60,41.7 387.78,46.9 387.96,45.7 388.14,47.6 388.32,39.7 388.50,51.3 388.68,44.0 388.86,77.7 389.04,82.0 389.22,81.2 389.40,81.6 389.58,47.4 389.76,43.6 389.94,49.7 390.12,46.4 390.30,49.1 390.48,45.3 390.66,70.2 390.84,60.8 391.02,69.9 391.20,46.0 391.38,50.3 391.56,47.4 391.74,49.2 391.92,47.7 392.10,49.3 392.28,47.2 392.46,54.1 392.64,43.8 392.82,51.8 393.00,44.7 393.18,51.0 393.36,44.2 393.54,52.1 393.72,47.1 393.90,51.1 394.08,46.8 394.26,50.1 394.44,47.3 394.62,47.8 394.80,46.2 394.98,48.0" fill="none" stroke="#FDBD10" stroke-width="0.9" stroke-opacity="0.9" stroke-linejoin="round"/>
<polyline points="36.00,116.5 36.18,111.6 36.36,117.3 36.54,111.1 36.72,116.9 36.90,114.8 37.08,116.8 37.26,115.5 37.44,120.0 37.62,114.3 37.80,119.5 37.98,116.0 38.16,120.1 38.34,115.1 38.52,122.1 38.70,115.2 38.88,117.7 39.06,150.3 39.24,147.2 39.42,116.3 39.60,121.6 39.78,114.4 39.96,116.7 40.00,129.9 40.18,132.9 40.36,130.1 40.54,137.4 40.72,129.5 40.90,130.2 41.08,128.3 41.26,132.0 41.44,126.4 41.62,130.3 41.80,129.6 41.98,131.2 42.16,129.5 42.34,132.7 42.52,129.2 42.70,132.9 42.88,127.7 43.06,133.6 43.24,125.8 43.42,131.2 43.60,125.7 43.78,137.6 43.96,130.9 44.14,136.8 44.32,131.4 44.50,137.1 44.68,131.6 44.86,133.9 45.04,132.5 45.22,133.2 45.40,131.7 45.58,132.8 45.76,129.3 45.94,133.9 46.12,130.8 46.30,132.3 46.48,131.4 46.66,132.8 46.84,127.4 47.02,134.3 47.20,130.5 47.38,131.7 47.56,113.8 47.74,132.4 47.92,131.1 48.00,120.9 48.18,114.0 48.36,119.0 48.54,115.0 48.72,115.6 48.90,113.9 49.08,124.4 49.26,133.8 49.44,131.6 49.62,115.4 49.80,116.7 49.98,113.7 50.16,118.7 50.34,115.3 50.52,119.9 50.70,113.3 50.88,120.3 51.06,116.1 51.24,118.6 51.42,115.7 51.60,117.4 51.78,114.8 51.96,118.1 52.14,114.3 52.32,125.2 52.50,116.0 52.68,120.5 52.86,113.9 53.00,133.0 53.18,129.4 53.36,134.6 53.54,128.2 53.72,134.1 53.90,129.6 54.08,134.4 54.26,129.9 54.44,132.0 54.62,129.3 54.80,133.4 54.98,128.8 55.16,132.2 55.34,126.4 55.52,131.6 55.70,125.0 55.88,131.4 56.06,130.7 56.24,133.8 56.42,127.5 56.60,131.1 56.78,129.5 56.96,131.7 57.14,126.8 57.32,135.5 57.50,126.6 57.68,131.7 57.86,127.8 58.04,134.0 58.22,130.6 58.40,131.1 58.58,127.3 58.76,133.4 58.94,131.1 59.12,133.2 59.30,129.4 59.48,136.2 59.66,127.2 59.84,132.1 60.00,144.2 60.18,149.8 60.36,145.0 60.54,149.7 60.72,144.9 60.90,150.2 61.08,145.0 61.26,149.2 61.44,145.1 61.62,147.1 61.80,146.5 61.98,148.1 62.16,146.6 62.34,150.4 62.52,145.3 62.70,147.9 62.88,144.5 63.06,148.7 63.24,145.0 63.42,151.4 63.60,145.8 63.78,148.7 63.96,137.7 64.14,146.8 64.32,144.1 64.50,150.2 64.68,142.9 64.86,151.8 65.04,141.6 65.22,147.3 65.40,141.1 65.58,149.5 65.76,128.6 65.94,127.9 66.12,128.1 66.30,127.9 66.48,127.7 66.66,132.3 66.84,130.0 67.02,136.0 67.20,145.6 67.38,147.1 67.56,145.0 67.74,147.9 67.92,146.6 68.10,147.2 68.28,144.6 68.46,148.0 68.64,144.9 68.82,147.2 69.00,142.3 69.18,148.9 69.36,146.2 69.54,130.3 69.72,129.0 69.90,130.5 70.08,129.4 70.26,149.5 70.44,146.4 70.62,150.4 70.80,145.1 70.98,147.3 71.16,146.5 71.34,151.7 71.52,145.0 71.70,148.7 71.88,144.9 72.06,132.5 72.24,129.1 72.42,134.7 72.60,127.6 72.78,134.6 72.96,130.3 73.14,133.1 73.32,131.4 73.50,135.2 73.68,128.0 73.86,132.3 74.04,131.3 74.22,134.4 74.40,128.4 74.58,135.6 74.76,125.1 74.94,135.4 75.00,145.5 75.18,150.8 75.36,141.1 75.54,117.9 75.72,140.4 75.90,147.0 76.08,144.5 76.26,147.5 76.44,141.7 76.62,148.7 76.80,144.1 76.98,149.4 77.16,141.1 77.34,148.6 77.52,145.1 77.70,148.8 77.88,143.1 78.06,151.7 78.24,142.7 78.42,149.4 78.60,139.8 78.78,147.6 78.96,144.6 79.14,148.1 79.32,145.5 79.50,130.1 79.68,129.7 79.86,134.4 80.04,132.4 80.22,148.7 80.40,143.9 80.58,145.8 80.76,143.4 80.94,146.3 81.12,145.6 81.30,152.4 81.48,128.5 81.66,132.8 81.84,127.3 82.02,135.0 82.20,128.2 82.38,134.6 82.56,128.4 82.74,132.2 82.92,128.9 83.00,149.2 83.18,143.2 83.36,150.8 83.54,141.4 83.72,149.6 83.90,144.8 84.08,148.7 84.26,144.3 84.44,113.8 84.62,145.7 84.80,148.4 84.98,142.6 85.16,149.1 85.34,143.2 85.52,150.6 85.70,140.9 85.88,148.3 86.06,146.3 86.24,148.4 86.42,145.0 86.60,147.1 86.78,142.9 86.96,147.5 87.14,143.2 87.32,153.7 87.50,143.2 87.68,154.5 87.86,143.4 88.04,148.1 88.22,147.5 88.40,147.6 88.58,146.3 88.76,151.2 88.94,145.7 89.12,149.1 89.30,146.3 89.48,152.7 89.66,134.9 89.84,132.7 90.00,130.9 90.18,138.0 90.36,130.7 90.54,133.4 90.72,125.9 90.90,134.6 91.08,126.9 91.26,137.1 91.44,132.3 91.62,133.7 91.80,125.4 91.98,132.7 92.16,132.4 92.34,133.7 92.52,127.0 92.70,132.4 92.88,131.7 93.06,134.0 93.24,131.8 93.42,147.9 93.60,145.4 93.78,144.3 93.96,145.3 94.14,124.3 94.32,120.3 94.50,132.6 94.68,130.9 94.86,134.4 95.00,145.0 95.18,152.8 95.36,142.1 95.54,147.9 95.72,145.1 95.90,147.5 96.08,144.7 96.26,150.4 96.44,145.7 96.62,146.0 96.80,144.4 96.98,148.0 97.16,146.0 97.34,149.2 97.52,145.5 97.70,147.8 97.88,145.8 98.06,147.9 98.24,143.9 98.42,146.9 98.60,143.0 98.78,149.3 98.96,143.2 99.14,146.5 99.32,146.0 99.50,150.3 99.68,146.9 99.86,147.5 100.00,129.6 100.18,134.9 100.36,130.3 100.54,132.4 100.72,130.5 100.90,131.0 101.08,126.8 101.26,135.0 101.44,129.5 101.62,133.8 101.80,125.3 101.98,133.5 102.16,130.2 102.34,132.6 102.52,131.3 102.70,115.1 102.88,114.9 103.06,114.6 103.24,117.8 103.42,131.2 103.60,127.1 103.78,132.2 103.96,129.7 104.14,132.3 104.32,129.5 104.50,131.1 104.68,129.8 104.86,131.3 105.04,127.7 105.22,134.3 105.40,129.1 105.58,133.0 105.76,130.5 105.94,135.0 106.12,130.7 106.30,133.9 106.48,129.7 106.66,134.4 106.84,129.9 107.02,132.4 107.20,127.1 107.38,132.1 107.56,129.0 107.74,132.7 107.92,130.1 108.10,132.6 108.28,131.3 108.46,135.2 108.64,130.2 108.82,132.7 109.00,130.1 109.18,133.0 109.36,125.6 109.54,131.5 109.72,123.1 109.90,134.3 110.00,143.9 110.18,145.9 110.36,137.6 110.54,144.4 110.72,141.3 110.90,144.9 111.08,139.4 111.26,147.4 111.44,138.1 111.62,149.8 111.80,141.3 111.98,149.3 112.16,142.1 112.34,145.1 112.52,140.8 112.70,145.0 112.88,143.0 113.06,150.4 113.24,144.7 113.42,146.4 113.60,144.9 113.78,148.4 113.96,143.7 114.14,152.2 114.32,144.9 114.50,147.0 114.68,145.3 114.86,146.9 115.00,130.4 115.18,131.7 115.36,129.6 115.54,131.5 115.72,126.9 115.90,131.9 116.08,130.6 116.26,132.7 116.44,127.8 116.62,132.8 116.80,125.3 116.98,131.1 117.16,130.2 117.34,131.9 117.52,128.6 117.70,131.7 117.88,129.9 118.06,144.3 118.24,128.2 118.42,131.3 118.60,124.5 118.78,130.6 118.96,127.4 119.14,134.0 119.32,128.2 119.50,134.4 119.68,122.4 119.86,132.3 120.04,145.9 120.22,150.2 120.40,146.9 120.58,147.1 120.76,131.2 120.94,134.1 121.12,130.6 121.30,131.9 121.48,124.5 121.66,132.9 121.84,126.9 122.02,133.0 122.20,131.4 122.38,134.6 122.56,129.2 122.74,134.4 122.92,127.5 123.10,134.7 123.28,130.8 123.46,136.8 123.64,129.1 123.82,133.7 124.00,130.4 124.18,133.6 124.36,127.2 124.54,131.7 124.72,130.0 124.90,131.5 125.08,128.3 125.26,131.4 125.44,129.1 125.62,130.6 125.80,126.9 125.98,133.5 126.00,142.5 126.18,149.2 126.36,139.3 126.54,148.8 126.72,144.3 126.90,147.0 127.08,140.6 127.26,147.0 127.44,142.4 127.62,148.3 127.80,144.6 127.98,147.4 128.16,144.0 128.34,146.6 128.52,145.2 128.70,146.1 128.88,145.5 129.06,149.4 129.24,144.6 129.42,145.8 129.60,143.8 129.78,153.4 129.96,142.5 130.14,147.7 130.32,145.5 130.50,146.9 130.68,138.7 130.86,146.5 131.04,144.0 131.22,146.4 131.40,144.6 131.58,147.0 131.76,138.9 131.94,147.3 132.12,144.8 132.30,147.7 132.48,139.9 132.66,150.2 132.84,142.8 133.02,147.3 133.20,140.6 133.38,132.0 133.56,141.8 133.74,149.3 133.92,143.6 134.00,133.8 134.18,125.4 134.36,134.7 134.54,125.2 134.72,131.2 134.90,128.1 135.08,140.2 135.26,128.2 135.44,135.9 135.62,123.2 135.80,132.1 135.98,129.4 136.16,133.9 136.34,128.4 136.52,131.8 136.70,130.3 136.88,131.4 137.06,130.6 137.24,132.2 137.42,128.8 137.60,131.3 137.78,126.8 137.96,135.5 138.14,126.1 138.32,132.7 138.50,129.8 138.68,133.3 138.86,130.8 139.04,131.6 139.22,131.4 139.40,136.3 139.58,127.3 139.76,133.6 139.94,128.9 140.12,133.5 140.30,128.7 140.48,134.4 140.66,131.3 140.84,131.6 141.02,129.2 141.20,132.9 141.38,127.7 141.56,134.5 141.74,129.9 141.92,140.6 142.10,128.5 142.28,134.4 142.46,128.1 142.64,132.3 142.82,127.0 143.00,133.9 143.18,126.5 143.36,134.6 143.54,130.8 143.72,134.3 143.90,129.3 144.08,132.3 144.26,130.4 144.44,141.0 144.62,127.8 144.80,135.7 144.98,128.4 145.16,137.3 145.34,128.7 145.52,133.0 145.70,130.9 145.88,135.8 146.06,130.2 146.24,132.7 146.42,127.1 146.60,130.9 146.78,128.9 146.96,133.0 147.14,129.4 147.32,138.3 147.50,131.0 147.68,132.7 147.86,131.3 148.04,133.0 148.22,130.9 148.40,133.6 148.58,129.2 148.76,131.8 148.94,130.8 149.12,134.5 149.30,127.1 149.48,137.0 149.66,130.4 149.84,134.1 150.02,130.3 150.20,123.9 150.38,118.2 150.56,115.6 150.74,120.8 150.92,136.2 151.10,131.1 151.28,132.8 151.46,130.4 151.64,134.8 151.82,126.2 152.00,131.5 152.18,130.1 152.36,136.4 152.54,130.0 152.72,131.7 152.90,125.9 153.08,131.4 153.26,127.9 153.44,130.7 153.62,128.8 153.80,131.4 153.98,127.4 154.16,131.7 154.34,128.3 154.52,132.5 154.70,125.7 154.88,132.2 155.06,124.8 155.24,116.0 155.42,114.1 155.60,112.7 155.78,124.0 155.96,131.2 156.14,129.4 156.32,130.7 156.50,127.2 156.68,135.4 156.86,130.1 157.04,133.1 157.22,128.0 157.40,134.8 157.58,129.6 157.76,131.4 157.94,128.3 158.12,133.0 158.30,130.5 158.48,131.4 158.66,130.8 158.84,132.9 159.02,112.3 159.20,113.8 159.38,130.7 159.56,133.5 159.74,130.9 159.92,132.5 160.10,127.7 160.28,134.8 160.46,127.5 160.64,135.8 160.82,127.9 161.00,131.8 161.18,129.8 161.36,133.1 161.54,130.1 161.72,132.0 161.90,138.9 162.08,145.8 162.26,143.5 162.44,141.4 162.62,129.4 162.80,130.5 162.98,126.6 163.16,135.1 163.34,121.0 163.52,133.2 163.70,129.9 163.88,132.4 164.06,129.5 164.24,132.1 164.42,130.3 164.60,131.1 164.78,129.5 164.96,132.6 165.14,128.8 165.32,134.8 165.50,129.7 165.68,131.0 165.86,130.5 166.04,132.7 166.22,128.3 166.40,133.4 166.58,130.5 166.76,133.7 166.94,125.0 167.12,130.7 167.30,118.6 167.48,109.7 167.66,128.3 167.84,131.6 168.02,127.1 168.20,133.8 168.38,125.9 168.56,131.4 168.74,129.9 168.92,133.0 169.10,129.1 169.28,131.0 169.46,127.6 169.64,130.3 169.82,128.8 170.00,134.1 170.18,129.5 170.36,118.1 170.54,114.0 170.72,116.1 170.90,113.8 171.08,118.7 171.26,112.9 171.44,117.3 171.62,113.1 171.80,116.2 171.98,113.5 172.16,117.0 172.34,113.3 172.52,118.5 172.70,128.9 172.88,133.9 173.00,113.2 173.18,119.4 173.36,112.5 173.54,121.8 173.72,115.8 173.90,123.9 174.08,114.0 174.26,119.4 174.44,114.5 174.62,118.1 174.80,110.6 174.98,117.0 175.16,110.7 175.34,120.6 175.52,110.7 175.70,117.6 175.88,114.4 176.06,119.1 176.24,112.8 176.42,116.8 176.60,111.0 176.78,118.7 176.96,115.4 177.14,118.1 177.32,115.7 177.50,120.3 177.68,112.6 177.86,119.4 178.00,130.5 178.18,133.2 178.36,130.8 178.54,133.0 178.72,127.0 178.90,131.8 179.08,124.2 179.26,136.9 179.44,129.3 179.62,132.3 179.80,129.8 179.98,133.4 180.16,130.4 180.34,132.8 180.52,124.4 180.70,121.1 180.88,129.6 181.06,131.9 181.24,130.6 181.42,133.0 181.60,130.1 181.78,131.7 181.96,128.1 182.14,132.1 182.32,109.0 182.50,112.2 182.68,127.9 182.86,134.8 183.04,126.9 183.22,137.8 183.40,129.3 183.58,140.0 183.76,128.2 183.94,136.8 184.12,129.4 184.30,132.1 184.48,129.7 184.66,137.3 184.84,127.5 185.02,133.5 185.20,128.5 185.38,144.5 185.56,148.7 185.74,142.4 185.92,142.3 186.00,131.9 186.18,129.8 186.36,132.1 186.54,126.2 186.72,133.8 186.90,128.4 187.08,134.3 187.26,126.1 187.44,132.6 187.62,130.6 187.80,132.4 187.98,129.2 188.16,135.8 188.34,128.5 188.52,130.9 188.70,130.2 188.88,134.3 189.06,130.1 189.24,133.6 189.42,128.3 189.60,131.8 189.78,126.8 189.96,133.2 190.14,128.9 190.32,132.0 190.50,127.5 190.68,136.6 190.86,126.8 191.04,136.0 191.22,125.3 191.40,133.7 191.58,126.6 191.76,133.6 191.94,126.9 192.12,136.3 192.30,128.3 192.48,132.7 192.66,130.3 192.84,134.4 193.02,132.1 193.20,134.8 193.38,132.4 193.56,137.9 193.74,130.3 193.92,119.1 194.10,117.2 194.28,119.4 194.46,129.1 194.64,137.6 194.82,146.4 195.00,147.2 195.18,142.7 195.36,147.5 195.54,143.4 195.72,151.7 195.90,145.0 196.08,148.5 196.26,139.2 196.44,146.4 196.62,141.6 196.80,148.1 196.98,145.8 197.16,146.2 197.34,143.9 197.52,146.2 197.70,128.5 197.88,131.3 198.06,145.0 198.24,153.2 198.42,143.3 198.60,146.0 198.78,141.0 198.96,150.1 199.14,145.0 199.32,146.7 199.50,144.8 199.68,149.4 199.86,145.6 200.04,149.8 200.22,142.5 200.40,149.1 200.58,129.2 200.76,136.9 200.94,129.1 201.12,134.5 201.30,124.6 201.48,131.6 201.66,130.5 201.84,132.6 202.02,129.9 202.20,134.7 202.38,130.3 202.56,148.2 202.74,143.5 202.92,147.0 203.00,127.2 203.18,136.4 203.36,128.6 203.54,134.5 203.72,129.4 203.90,133.0 204.08,129.5 204.26,130.8 204.44,110.9 204.62,116.7 204.80,114.6 204.98,132.0 205.16,127.4 205.34,132.4 205.52,125.3 205.70,130.7 205.88,129.6 206.06,131.5 206.24,128.9 206.42,132.0 206.60,130.0 206.78,130.5 206.96,128.9 207.14,132.7 207.32,125.2 207.50,130.4 207.68,128.2 207.86,130.3 208.04,127.3 208.22,130.3 208.40,125.7 208.58,133.4 208.76,126.7 208.94,132.4 209.12,123.2 209.30,135.3 209.48,126.9 209.66,132.2 209.84,127.5 210.02,137.9 210.20,128.2 210.38,132.3 210.56,130.1 210.74,134.3 210.92,131.3 211.10,135.3 211.28,130.7 211.46,133.1 211.64,130.3 211.82,139.7 212.00,128.2 212.18,133.8 212.36,128.7 212.54,137.4 212.72,123.8 212.90,132.2 213.08,125.4 213.26,119.6 213.44,129.0 213.62,133.8 213.80,130.7 213.98,134.7 214.16,131.2 214.34,140.0 214.52,126.0 214.70,132.7 214.88,131.2 215.06,132.1 215.24,123.2 215.42,134.8 215.60,129.9 215.78,134.8 215.96,127.9 216.14,133.8 216.32,131.0 216.50,135.5 216.68,132.0 216.86,131.9 217.04,129.5 217.22,134.4 217.40,115.2 217.58,118.1 217.76,115.9 217.94,117.3 218.12,113.4 218.30,118.6 218.48,108.7 218.66,149.8 218.84,111.1 219.02,118.8 219.20,114.7 219.38,118.3 219.56,110.7 219.74,117.9 219.92,113.2 220.10,120.9 220.28,114.8 220.46,115.7 220.64,110.2 220.82,118.1 221.00,113.6 221.18,115.9 221.36,112.9 221.54,122.2 221.72,127.9 221.90,132.5 222.08,128.4 222.26,134.0 222.44,129.7 222.62,133.8 222.80,130.6 222.98,136.5 223.16,129.7 223.34,131.9 223.52,127.3 223.70,133.7 223.88,130.5 224.06,131.3 224.24,129.8 224.42,133.6 224.60,130.8 224.78,131.2 224.96,129.6 225.14,134.3 225.32,130.6 225.50,133.8 225.68,129.8 225.86,134.6 226.04,128.6 226.22,133.2 226.40,130.7 226.58,132.0 226.76,131.2 226.94,136.1 227.12,128.7 227.30,134.4 227.48,126.7 227.66,136.2 227.84,131.5 228.02,135.4 228.20,130.7 228.38,136.0 228.56,130.4 228.74,132.8 228.92,124.5 229.10,133.3 229.28,126.0 229.46,132.4 229.64,128.1 229.82,133.2 230.00,126.3 230.18,131.5 230.36,127.9 230.54,131.2 230.72,129.2 230.90,133.6 231.08,128.7 231.26,134.6 231.44,127.8 231.62,130.5 231.80,126.1 231.98,131.4 232.16,129.0 232.34,130.9 232.52,129.1 232.70,133.7 232.88,126.4 233.06,134.7 233.24,129.0 233.42,137.5 233.60,125.7 233.78,132.4 233.96,127.8 234.14,134.8 234.32,127.1 234.50,137.7 234.68,129.4 234.86,137.1 235.04,127.0 235.22,133.1 235.40,128.6 235.58,132.6 235.76,130.0 235.94,136.1 236.12,127.4 236.30,131.4 236.48,127.0 236.66,136.4 236.84,131.2 237.02,131.9 237.20,131.3 237.38,133.1 237.56,126.1 237.74,132.9 237.92,116.2 238.10,114.6 238.28,141.7 238.46,135.7 238.64,129.4 238.82,132.9 239.00,128.8 239.18,137.1 239.36,129.0 239.54,131.8 239.72,129.9 239.90,133.5 240.08,125.9 240.26,132.5 240.44,128.0 240.62,135.2 240.80,127.4 240.98,137.2 241.16,130.4 241.34,132.8 241.52,132.3 241.70,115.8 241.88,120.0 242.06,111.4 242.24,129.2 242.42,136.2 242.60,127.7 242.78,132.7 242.96,131.3 243.14,136.8 243.32,125.6 243.50,137.3 243.68,124.3 243.86,132.4 244.04,131.1 244.22,132.1 244.40,125.2 244.58,137.0 244.76,128.6 244.94,132.2 245.12,128.9 245.30,135.7 245.48,129.4 245.66,132.1 245.84,127.1 246.02,131.7 246.20,129.4 246.38,133.2 246.56,126.4 246.74,133.4 246.92,130.5 247.10,133.6 247.28,128.4 247.46,131.3 247.64,128.9 247.82,130.7 248.00,128.8 248.18,133.7 248.36,129.2 248.54,134.7 248.72,123.0 248.90,130.6 249.08,125.6 249.26,131.4 249.44,126.7 249.62,133.3 249.80,130.9 249.98,136.6 250.00,142.7 250.18,149.1 250.36,144.8 250.54,152.5 250.72,144.7 250.90,154.7 251.08,144.2 251.26,148.8 251.44,145.0 251.62,147.8 251.80,146.6 251.98,149.1 252.16,143.0 252.34,149.1 252.52,138.2 252.70,149.6 252.88,144.8 253.06,151.9 253.24,142.8 253.42,148.1 253.60,146.0 253.78,148.6 253.96,145.8 254.14,155.8 254.32,141.9 254.50,150.7 254.68,142.5 254.86,148.9 255.04,141.2 255.22,147.2 255.40,145.0 255.58,146.9 255.76,144.0 255.94,146.7 256.12,145.5 256.30,148.6 256.48,142.8 256.66,150.9 256.84,145.1 257.02,147.1 257.20,141.4 257.38,147.7 257.56,140.7 257.74,148.6 257.92,145.6 258.10,146.4 258.28,145.6 258.46,145.5 258.64,142.5 258.82,145.9 259.00,125.4 259.18,134.8 259.36,128.6 259.54,131.4 259.72,125.7 259.90,132.4 260.08,129.4 260.26,131.9 260.44,129.5 260.62,134.9 260.80,127.8 260.98,139.2 261.16,130.6 261.34,132.7 261.52,129.7 261.70,134.6 261.88,130.5 262.06,135.2 262.24,125.2 262.42,149.8 262.60,145.8 262.78,149.7 262.96,146.2 263.14,150.5 263.32,143.5 263.50,147.3 263.68,145.3 263.86,148.5 264.04,145.7 264.22,147.9 264.40,143.7 264.58,148.9 264.76,145.1 264.94,134.1 265.12,127.8 265.30,132.3 265.48,130.7 265.66,134.9 265.84,130.3 266.02,131.3 266.20,127.9 266.38,132.1 266.56,129.7 266.74,132.3 266.92,142.8 267.10,150.7 267.28,142.2 267.46,148.4 267.64,139.6 267.82,150.1 268.00,144.5 268.18,146.2 268.36,143.6 268.54,147.9 268.72,144.9 268.90,147.8 269.08,145.1 269.26,146.6 269.44,142.6 269.62,147.1 269.80,142.5 269.98,148.3 270.16,142.0 270.34,148.5 270.52,145.2 270.70,148.9 270.88,116.4 271.00,113.2 271.18,113.1 271.36,109.2 271.54,129.6 271.72,134.9 271.90,130.6 272.08,135.0 272.26,130.0 272.44,131.3 272.62,129.4 272.80,136.4 272.98,130.8 273.16,136.3 273.34,127.9 273.52,136.8 273.70,129.1 273.88,135.5 274.06,130.0 274.24,134.5 274.42,130.6 274.60,134.3 274.78,125.1 274.96,133.3 275.14,130.9 275.32,131.1 275.50,130.7 275.68,132.6 275.86,127.5 276.04,130.7 276.22,129.5 276.40,131.5 276.58,129.8 276.76,130.4 276.94,123.2 277.12,131.6 277.30,126.5 277.48,131.6 277.66,125.9 277.84,130.8 278.02,130.6 278.20,131.0 278.38,127.0 278.56,131.4 278.74,128.4 278.92,130.9 279.10,127.2 279.28,133.7 279.46,127.4 279.64,130.9 279.82,114.9 280.00,114.7 280.18,113.4 280.36,134.2 280.54,127.2 280.72,131.1 280.90,129.4 281.08,132.8 281.26,128.1 281.44,132.7 281.62,126.4 281.80,134.1 281.98,129.6 282.16,132.8 282.34,125.3 282.52,131.8 282.70,128.0 282.88,134.1 283.06,125.4 283.24,133.7 283.42,129.2 283.60,135.4 283.78,130.6 283.96,132.8 284.14,127.7 284.32,132.6 284.50,128.8 284.68,132.7 284.86,129.7 285.04,136.3 285.22,130.8 285.40,133.0 285.58,131.5 285.76,132.7 285.94,130.6 286.12,137.8 286.30,127.7 286.48,131.6 286.66,129.9 286.84,133.5 287.02,129.2 287.20,132.9 287.38,127.7 287.56,134.7 287.74,125.2 287.92,131.7 288.10,128.9 288.28,137.0 288.46,129.3 288.64,132.2 288.82,122.9 289.00,134.1 289.18,127.3 289.36,132.2 289.54,131.0 289.72,135.9 289.90,130.6 290.08,134.0 290.26,131.3 290.44,133.7 290.62,113.9 290.80,116.4 290.98,117.3 291.16,133.0 291.34,128.8 291.52,135.5 291.70,130.6 291.88,133.0 292.06,127.8 292.24,133.1 292.42,131.7 292.60,133.2 292.78,131.2 292.96,135.0 293.14,146.9 293.32,138.5 293.50,131.4 293.68,132.5 293.86,127.6 294.04,135.4 294.22,130.0 294.40,134.8 294.58,130.9 294.76,133.2 294.94,130.6 295.12,136.3 295.30,128.3 295.48,132.7 295.66,128.6 295.84,131.9 296.02,130.4 296.20,134.9 296.38,129.2 296.56,134.6 296.74,130.5 296.92,137.6 297.10,130.1 297.28,133.6 297.46,131.0 297.64,135.3 297.82,125.1 298.00,132.1 298.18,131.1 298.36,132.4 298.54,128.9 298.72,124.2 298.90,119.1 299.08,116.7 299.26,122.4 299.44,132.8 299.62,129.4 299.80,133.4 299.98,128.7 300.16,131.6 300.34,125.9 300.52,130.1 300.70,128.9 300.88,130.6 301.06,126.2 301.24,130.9 301.42,127.2 301.60,133.3 301.78,126.3 301.96,129.8 302.14,129.5 302.32,135.4 302.50,126.1 302.68,135.1 302.86,119.3 303.04,111.5 303.22,116.4 303.40,112.8 303.58,126.6 303.76,131.8 303.94,130.2 304.12,132.8 304.30,129.7 304.48,133.6 304.66,129.6 304.84,132.0 305.00,115.1 305.18,117.7 305.36,113.8 305.54,119.1 305.72,115.8 305.90,117.5 306.08,111.6 306.26,119.0 306.44,111.2 306.62,118.1 306.80,125.0 306.98,117.6 307.16,114.2 307.34,121.2 307.52,109.7 307.70,120.0 307.88,115.6 308.06,116.9 308.24,113.7 308.42,120.0 308.60,115.0 308.78,117.0 308.96,116.1 309.14,116.8 309.32,111.3 309.50,118.8 309.68,115.2 309.86,120.5 310.04,113.7 310.22,119.2 310.40,112.4 310.58,115.7 310.76,114.0 310.94,116.9 311.12,115.7 311.30,116.1 311.48,113.4 311.66,121.6 311.84,112.1 312.02,119.1 312.20,114.8 312.38,116.1 312.56,114.2 312.74,116.6 312.92,114.6 313.10,116.9 313.28,111.3 313.46,118.3 313.64,115.6 313.82,121.0 314.00,114.8 314.18,119.5 314.36,114.8 314.54,118.6 314.72,112.9 314.90,120.8 315.08,111.5 315.26,118.3 315.44,114.5 315.62,121.0 315.80,113.6 315.98,116.4 316.16,112.3 316.34,118.1 316.52,110.3 316.70,116.4 316.88,109.0 317.06,115.0 317.24,112.9 317.42,116.2 317.60,114.8 317.78,117.8 317.96,114.7 318.00,130.7 318.18,129.0 318.36,131.9 318.54,128.4 318.72,130.9 318.90,130.2 319.08,138.5 319.26,130.0 319.44,132.0 319.62,129.2 319.80,135.2 319.98,127.3 320.16,135.5 320.34,130.4 320.52,136.7 320.70,131.0 320.88,135.7 321.06,128.2 321.24,131.2 321.42,130.9 321.60,133.4 321.78,131.1 321.96,133.5 322.14,130.7 322.32,133.8 322.50,131.8 322.68,134.9 322.86,129.7 323.04,135.2 323.22,128.6 323.40,134.8 323.58,127.5 323.76,133.5 323.94,130.0 324.12,135.5 324.30,128.6 324.48,132.7 324.66,131.0 324.84,131.9 325.02,126.7 325.20,137.2 325.38,127.0 325.56,134.9 325.74,128.6 325.92,131.9 326.10,128.6 326.28,131.4 326.46,128.1 326.64,131.7 326.82,130.2 327.00,132.5 327.18,130.2 327.36,131.9 327.54,128.0 327.72,134.0 327.90,130.9 328.08,132.5 328.26,129.0 328.44,131.7 328.62,130.4 328.80,135.3 328.98,130.2 329.16,135.3 329.34,129.2 329.52,132.5 329.70,129.0 329.88,132.4 330.06,130.6 330.24,132.6 330.42,128.0 330.60,133.1 330.78,130.5 330.96,135.3 331.14,130.7 331.32,131.5 331.50,125.2 331.68,131.4 331.86,126.6 332.04,132.0 332.22,128.6 332.40,138.1 332.58,126.2 332.76,131.8 332.94,129.5 333.12,131.2 333.30,130.6 333.48,134.1 333.66,127.3 333.84,130.8 334.02,129.9 334.20,130.7 334.38,126.9 334.56,136.0 334.74,129.8 334.92,133.4 335.10,127.3 335.28,133.9 335.46,125.4 335.64,135.3 335.82,130.4 336.00,132.0 336.18,129.3 336.36,132.4 336.54,122.9 336.72,132.9 336.90,130.4 337.08,135.0 337.26,125.9 337.44,137.6 337.62,125.3 337.80,134.6 337.98,129.2 338.16,135.2 338.34,130.2 338.52,134.5 338.70,129.5 338.88,135.0 339.06,128.7 339.24,131.8 339.42,127.0 339.60,132.0 339.78,130.5 339.96,134.1 340.14,125.5 340.32,131.8 340.50,127.3 340.68,135.7 340.86,130.0 341.04,131.9 341.22,130.8 341.40,131.7 341.58,129.8 341.76,133.8 341.94,127.2 342.12,133.9 342.30,131.1 342.48,134.1 342.66,129.5 342.84,145.6 343.02,143.9 343.20,131.8 343.38,124.8 343.56,136.7 343.74,129.1 343.92,117.2 344.10,115.9 344.28,133.0 344.46,129.9 344.64,131.9 344.82,128.3 345.00,132.9 345.18,128.5 345.36,133.9 345.54,127.8 345.72,137.3 345.90,125.5 346.08,131.1 346.26,127.6 346.44,133.7 346.62,125.5 346.80,133.0 346.98,127.7 347.16,132.4 347.34,129.9 347.52,133.4 347.70,127.5 347.88,133.4 348.00,139.6 348.18,147.5 348.36,143.1 348.54,146.5 348.72,143.2 348.90,149.7 349.08,138.8 349.26,150.6 349.44,143.1 349.62,148.0 349.80,140.1 349.98,149.2 350.16,140.0 350.34,146.5 350.52,141.7 350.70,146.7 350.88,137.7 351.06,147.5 351.24,144.1 351.42,149.5 351.60,142.5 351.78,145.7 351.96,143.0 352.14,144.8 352.32,139.4 352.50,151.4 352.68,143.6 352.86,146.1 353.04,145.1 353.22,151.2 353.40,142.3 353.58,152.6 353.76,143.7 353.94,150.1 354.12,146.4 354.30,148.0 354.48,130.1 354.66,122.4 354.84,145.4 355.02,151.4 355.20,140.2 355.38,156.5 355.56,146.4 355.74,147.9 355.92,143.7 356.10,149.8 356.28,144.8 356.46,134.6 356.64,129.3 356.82,133.8 357.00,113.0 357.18,116.6 357.36,113.5 357.54,117.5 357.72,114.9 357.90,116.7 358.08,115.6 358.26,116.6 358.44,113.7 358.62,118.3 358.80,116.3 358.98,118.1 359.16,116.2 359.34,118.6 359.52,115.7 359.70,116.3 359.88,112.9 360.06,120.1 360.24,113.7 360.42,116.7 360.60,115.1 360.78,115.2 360.96,109.5 361.14,122.1 361.32,112.6 361.50,116.5 361.68,114.2 361.86,116.1 362.04,114.1 362.22,119.9 362.40,109.3 362.58,119.3 362.76,111.2 362.94,117.1 363.12,112.5 363.30,118.8 363.48,107.5 363.66,125.8 363.84,130.7 364.02,121.1 364.20,114.7 364.38,116.5 364.56,111.0 364.74,118.4 364.92,113.1 365.10,116.8 365.28,112.2 365.46,115.2 365.64,110.0 365.82,120.2 366.00,113.5 366.18,116.1 366.36,114.1 366.54,117.0 366.72,111.5 366.90,120.1 367.08,114.8 367.26,117.9 367.44,111.9 367.62,117.6 367.80,113.8 367.98,117.7 368.16,115.9 368.34,127.2 368.52,124.9 368.70,120.8 368.88,112.9 369.06,120.3 369.24,116.1 369.42,120.0 369.60,114.3 369.78,119.9 369.96,114.6 370.14,120.5 370.32,115.9 370.50,119.4 370.68,115.0 370.86,119.1 371.04,116.3 371.22,119.5 371.40,110.3 371.58,117.2 371.76,106.5 371.94,117.0 372.12,110.2 372.30,116.7 372.48,114.5 372.66,116.5 372.84,113.8 373.02,118.2 373.20,112.2 373.38,119.9 373.56,113.0 373.74,117.9 373.92,113.4 374.10,117.9 374.28,113.6 374.46,119.6 374.64,111.2 374.82,118.9 375.00,131.4 375.18,133.6 375.36,131.5 375.54,136.5 375.72,130.1 375.90,135.2 376.08,131.3 376.26,135.6 376.44,130.9 376.62,135.5 376.80,125.5 376.98,132.1 377.16,129.7 377.34,133.3 377.52,125.2 377.70,132.6 377.88,129.9 378.06,132.4 378.24,130.4 378.42,134.6 378.60,128.1 378.78,138.7 378.96,127.6 379.14,132.7 379.32,126.8 379.50,133.3 379.68,129.4 379.86,133.2 380.04,127.9 380.22,134.6 380.40,131.1 380.58,132.2 380.76,131.3 380.94,132.5 381.12,128.4 381.30,134.9 381.48,129.5 381.66,135.6 381.84,129.6 382.00,145.8 382.18,143.5 382.36,148.4 382.54,138.6 382.72,132.6 382.90,129.5 383.08,127.5 383.26,131.5 383.44,146.2 383.62,142.7 383.80,145.6 383.98,144.4 384.16,147.9 384.34,142.0 384.52,149.9 384.70,142.0 384.88,148.2 385.06,144.8 385.24,148.0 385.42,144.7 385.60,147.9 385.78,145.1 385.96,150.8 386.00,127.8 386.18,133.4 386.36,124.3 386.54,135.1 386.72,128.9 386.90,132.8 387.08,128.4 387.26,132.9 387.44,128.1 387.62,136.2 387.80,128.0 387.98,134.8 388.16,127.7 388.34,133.0 388.52,130.9 388.70,131.1 388.88,130.0 389.06,138.6 389.24,129.9 389.42,131.1 389.60,130.4 389.78,132.2 389.96,126.7 390.14,133.4 390.32,128.9 390.50,136.0 390.68,129.7 390.86,131.8 391.04,130.0 391.22,132.7 391.40,127.9 391.58,132.5 391.76,128.1 391.94,134.6 392.00,137.9 392.18,148.9 392.36,140.9 392.54,146.6 392.72,140.6 392.90,145.4 393.08,144.5 393.26,148.5 393.44,144.5 393.62,145.1 393.80,141.5 393.98,148.3 394.16,140.2 394.34,148.8 394.52,141.9 394.70,146.6 394.88,141.6" fill="none" stroke="#F49C20" stroke-width="0.9" stroke-opacity="0.9" stroke-linejoin="round"/>
<polyline points="36.00,196.9 36.18,190.9 36.36,195.6 36.54,192.4 36.72,196.5 36.90,187.0 37.08,195.6 37.26,191.5 37.44,194.7 37.62,191.5 37.80,194.4 37.98,207.6 38.16,197.0 38.34,193.4 38.52,204.0 38.70,193.0 38.88,198.9 39.06,194.8 39.24,197.7 39.42,187.0 39.60,196.2 39.78,193.8 39.96,195.4 40.14,191.6 40.32,197.5 40.50,193.4 40.68,197.5 40.86,193.0 41.04,196.5 41.22,193.1 41.40,204.1 41.58,193.6 41.76,196.3 41.94,194.2 42.12,216.9 42.30,212.6 42.48,216.7 42.66,211.4 42.84,198.9 43.02,193.6 43.20,201.9 43.38,191.9 43.56,196.2 43.74,192.9 43.92,197.4 44.10,189.9 44.28,200.6 44.46,195.2 44.64,197.7 44.82,186.3 45.00,195.3 45.00,205.2 45.18,210.8 45.36,207.6 45.54,210.5 45.72,207.5 45.90,209.6 46.08,207.6 46.26,212.0 46.44,203.8 46.62,211.1 46.80,207.2 46.98,209.8 47.16,206.1 47.34,209.0 47.52,205.5 47.70,210.3 47.88,202.6 48.06,209.7 48.24,207.6 48.42,209.9 48.60,206.6 48.78,199.4 48.96,196.1 49.00,189.8 49.18,195.2 49.36,197.8 49.54,193.5 49.72,197.9 49.90,193.7 50.08,194.3 50.26,188.6 50.44,197.3 50.62,188.0 50.80,196.0 50.98,190.4 51.16,194.7 51.34,191.0 51.52,194.7 51.70,194.2 51.88,195.8 52.06,193.1 52.24,198.3 52.42,190.9 52.60,198.8 52.78,193.7 52.96,195.5 53.14,192.9 53.32,196.2 53.50,191.4 53.68,196.4 53.86,195.4 54.04,196.6 54.22,193.4 54.40,197.6 54.58,186.3 54.76,197.9 54.94,192.7 55.12,198.2 55.30,192.4 55.48,197.2 55.66,194.3 55.84,198.2 56.02,194.5 56.20,195.8 56.38,194.2 56.56,197.5 56.74,193.8 56.92,197.0 57.10,193.3 57.28,194.6 57.46,192.9 57.64,196.0 57.82,189.6 58.00,197.2 58.18,194.0 58.36,196.3 58.54,190.5 58.72,197.0 58.90,192.0 59.08,197.9 59.26,193.9 59.44,198.3 59.62,195.5 59.80,197.2 59.98,194.6 60.16,197.1 60.34,196.0 60.52,200.6 60.70,194.0 60.88,201.5 61.06,191.9 61.24,199.3 61.42,195.4 61.60,198.1 61.78,195.3 61.96,195.5 62.14,195.0 62.32,199.2 62.50,193.7 62.68,198.0 62.86,193.1 63.04,201.4 63.22,194.3 63.40,197.2 63.58,191.2 63.76,199.4 63.94,190.7 64.12,196.1 64.30,192.3 64.48,195.7 64.66,191.4 64.84,194.9 65.02,194.0 65.20,198.5 65.38,192.1 65.56,197.8 65.74,192.9 65.92,179.5 66.10,179.3 66.28,175.8 66.46,181.5 66.64,198.0 66.82,192.8 67.00,198.4 67.18,192.6 67.36,194.6 67.54,193.0 67.72,194.4 67.90,192.9 68.08,198.7 68.26,188.8 68.44,193.8 68.62,191.1 68.80,195.1 68.98,193.7 69.16,199.2 69.34,194.0 69.52,194.0 69.70,193.0 69.88,193.8 70.00,208.1 70.18,211.4 70.36,204.7 70.54,209.5 70.72,206.9 70.90,210.9 71.08,205.5 71.26,212.4 71.44,208.2 71.62,212.3 71.80,207.7 71.98,209.7 72.16,203.8 72.34,209.7 72.52,207.7 72.70,212.0 72.88,208.2 73.06,210.4 73.24,208.3 73.42,209.8 73.60,209.0 73.78,212.6 73.96,206.9 74.14,213.4 74.32,203.9 74.50,211.4 74.68,206.4 74.86,217.0 75.04,208.6 75.22,212.1 75.40,206.7 75.58,209.6 75.76,203.8 75.94,209.7 76.12,203.2 76.30,210.5 76.48,205.7 76.66,212.3 76.84,200.9 77.02,212.0 77.20,209.3 77.38,212.0 77.56,207.4 77.74,211.6 77.92,207.9 78.10,213.0 78.28,209.3 78.46,213.5 78.64,208.0 78.82,216.8 79.00,207.7 79.18,213.4 79.36,207.5 79.54,211.3 79.72,205.0 79.90,211.4 80.08,207.4 80.26,209.4 80.44,207.4 80.62,209.2 80.80,205.8 80.98,209.7 81.16,206.7 81.34,216.4 81.52,206.8 81.70,211.2 81.88,206.9 82.06,212.8 82.24,207.9 82.42,212.3 82.60,208.1 82.78,210.7 82.96,208.5 83.14,215.2 83.32,209.2 83.50,211.5 83.68,208.8 83.86,210.1 84.04,209.2 84.22,214.1 84.40,209.2 84.58,212.3 84.76,207.3 84.94,212.9 85.12,209.1 85.30,209.8 85.48,208.0 85.66,212.2 85.84,206.2 86.02,216.3 86.20,208.7 86.38,212.5 86.56,208.0 86.74,198.5 86.92,193.3 87.10,194.1 87.28,192.7 87.46,216.8 87.64,208.5 87.82,214.5 88.00,207.1 88.18,210.7 88.36,207.1 88.54,212.3 88.72,204.9 88.90,208.8 89.08,207.0 89.26,216.1 89.44,205.9 89.62,212.6 89.80,207.2 89.98,212.7 90.16,208.0 90.34,211.7 90.52,207.7 90.70,209.2 90.88,205.0 91.06,209.6 91.24,205.4 91.42,213.2 91.60,207.8 91.78,209.4 91.96,206.7 92.14,213.2 92.32,208.9 92.50,210.2 92.68,207.8 92.86,212.7 93.04,208.5 93.22,217.7 93.40,206.6 93.58,214.8 93.76,208.7 93.94,214.6 94.12,197.3 94.30,198.0 94.48,201.9 94.66,210.3 94.84,209.9 95.02,216.2 95.20,208.3 95.38,211.0 95.56,206.7 95.74,214.4 95.92,209.2 96.10,210.6 96.28,208.4 96.46,209.5 96.64,208.0 96.82,211.7 97.00,206.1 97.18,213.3 97.36,209.6 97.54,210.2 97.72,201.5 97.90,215.1 98.08,204.8 98.26,212.0 98.44,207.9 98.62,210.7 98.80,205.2 98.98,209.9 99.16,207.1 99.34,210.1 99.52,208.5 99.70,211.8 99.88,195.9 100.06,193.3 100.24,209.8 100.42,214.4 100.60,205.6 100.78,212.3 100.96,210.3 101.14,213.1 101.32,209.0 101.50,213.4 101.68,207.0 101.86,177.8 102.04,194.9 102.22,199.0 102.40,192.8 102.58,196.7 102.76,206.2 102.94,214.6 103.12,203.6 103.30,211.3 103.48,209.0 103.66,213.0 103.84,209.1 104.02,204.3 104.20,200.8 104.38,197.5 104.56,199.7 104.74,210.7 104.92,208.6 105.00,197.1 105.18,190.1 105.36,196.6 105.54,190.8 105.72,201.3 105.90,193.5 106.08,194.9 106.26,185.3 106.44,197.3 106.62,194.1 106.80,187.6 106.98,182.4 107.16,181.5 107.34,192.4 107.52,196.3 107.70,193.2 107.88,195.6 108.06,192.9 108.24,196.7 108.42,194.6 108.60,195.4 108.78,190.2 108.96,198.7 109.14,190.7 109.32,196.5 109.50,193.7 109.68,200.8 109.86,193.7 110.04,196.6 110.22,190.8 110.40,195.4 110.58,193.9 110.76,195.2 110.94,191.2 111.12,200.3 111.30,194.2 111.48,197.3 111.66,193.1 111.84,195.1 112.02,193.8 112.20,195.3 112.38,190.0 112.56,196.7 112.74,180.7 112.92,182.2 113.10,179.9 113.28,197.7 113.46,193.2 113.64,194.7 113.82,193.3 114.00,202.3 114.18,208.0 114.36,209.9 114.54,205.4 114.72,210.6 114.90,208.1 115.08,210.1 115.26,209.6 115.44,211.9 115.62,205.4 115.80,212.9 115.98,209.6 116.00,197.3 116.18,190.1 116.36,200.0 116.54,191.4 116.72,202.1 116.90,195.2 117.08,195.6 117.26,190.8 117.44,198.4 117.62,190.0 117.80,196.7 117.98,192.6 118.16,199.3 118.34,193.5 118.52,196.7 118.70,195.4 118.88,196.4 119.06,193.1 119.24,197.3 119.42,196.0 119.60,201.0 119.78,195.3 119.96,197.1 120.14,192.7 120.32,202.1 120.50,194.7 120.68,197.9 120.86,193.1 121.04,198.0 121.22,195.2 121.40,198.3 121.58,195.4 121.76,200.5 121.94,190.9 122.12,196.6 122.30,193.6 122.48,198.3 122.66,195.3 122.84,196.5 123.02,194.4 123.20,198.7 123.38,194.3 123.56,199.2 123.74,194.9 123.92,195.8 124.10,189.8 124.28,195.4 124.46,192.6 124.64,195.1 124.82,191.9 125.00,196.8 125.18,192.7 125.36,199.7 125.54,191.1 125.72,195.6 125.90,194.2 126.00,195.6 126.18,195.0 126.36,198.7 126.54,193.8 126.72,195.6 126.90,191.6 127.08,196.5 127.26,190.9 127.44,196.0 127.62,194.0 127.80,203.6 127.98,194.7 128.16,196.7 128.34,208.2 128.52,209.9 128.70,209.0 128.88,209.1 129.06,207.5 129.24,214.0 129.42,206.3 129.60,210.0 129.78,208.8 129.96,211.3 130.14,206.7 130.32,213.5 130.50,206.1 130.68,211.8 130.86,206.0 131.04,215.8 131.22,204.8 131.40,213.5 131.58,206.7 131.76,212.1 131.94,204.6 132.12,212.7 132.30,207.4 132.48,210.5 132.66,208.6 132.84,209.0 133.02,203.8 133.20,192.3 133.38,191.0 133.56,194.5 133.74,206.6 133.92,214.3 134.10,208.2 134.28,213.0 134.46,204.3 134.64,211.4 134.82,192.7 135.00,197.8 135.18,191.8 135.36,198.3 135.54,193.1 135.72,197.3 135.90,192.2 136.08,212.6 136.26,210.0 136.44,215.6 136.62,205.2 136.80,213.8 136.98,209.2 137.16,212.4 137.34,209.3 137.52,212.6 137.70,209.2 137.88,217.0 138.06,207.2 138.24,212.5 138.42,209.6 138.60,215.7 138.78,207.2 138.96,214.1 139.14,209.1 139.32,214.6 139.50,209.1 139.68,210.2 139.86,207.3 140.04,212.0 140.22,207.0 140.40,210.9 140.58,207.9 140.76,214.7 140.94,205.8 141.12,212.3 141.30,206.6 141.48,210.5 141.66,208.1 141.84,209.6 142.00,193.8 142.18,197.1 142.36,190.9 142.54,195.8 142.72,193.9 142.90,201.1 143.08,194.0 143.26,195.4 143.44,192.2 143.62,197.9 143.80,193.3 143.98,197.5 144.16,194.5 144.34,199.8 144.52,195.0 144.70,202.5 144.88,195.5 145.06,198.4 145.24,193.5 145.42,199.9 145.60,194.1 145.78,199.2 145.96,194.4 146.14,197.4 146.32,190.3 146.50,201.9 146.68,193.5 146.86,194.7 147.04,191.9 147.22,197.0 147.40,190.1 147.58,198.1 147.76,186.8 147.94,195.2 148.12,191.4 148.30,194.2 148.48,188.2 148.66,197.5 148.84,191.7 149.02,197.1 149.20,192.7 149.38,193.9 149.56,191.8 149.74,196.3 149.92,193.3 150.10,194.0 150.28,188.2 150.46,195.2 150.64,192.3 150.82,197.2 151.00,192.4 151.18,198.1 151.36,191.5 151.54,205.8 151.72,190.0 151.90,196.9 152.08,190.4 152.26,193.9 152.44,190.0 152.62,195.1 152.80,191.9 152.98,201.3 153.16,189.5 153.34,196.3 153.52,191.3 153.70,196.3 153.88,191.9 154.06,198.0 154.24,190.6 154.42,196.5 154.60,192.6 154.78,197.6 154.96,188.1 155.14,196.3 155.32,194.1 155.50,194.6 155.68,193.2 155.86,196.1 156.04,189.1 156.22,195.1 156.40,192.8 156.58,199.7 156.76,192.5 156.94,196.5 157.12,193.5 157.30,197.6 157.48,186.9 157.66,194.4 157.84,193.0 158.02,195.8 158.20,192.7 158.38,196.9 158.56,192.0 158.74,198.1 158.92,193.5 159.10,195.0 159.28,193.6 159.46,195.8 159.64,195.2 159.82,196.8 160.00,191.7 160.18,197.6 160.36,191.5 160.54,197.0 160.72,191.8 160.90,198.3 161.08,192.1 161.26,196.6 161.44,191.8 161.62,198.3 161.80,193.0 161.98,197.0 162.16,195.0 162.34,199.1 162.52,192.9 162.70,195.6 162.88,194.9 163.06,195.7 163.24,194.9 163.42,196.0 163.60,194.4 163.78,198.0 163.96,193.2 164.14,197.3 164.32,190.6 164.50,195.7 164.68,193.1 164.86,195.9 165.04,188.3 165.22,194.6 165.40,188.4 165.58,195.4 165.76,190.9 165.94,195.8 166.12,186.9 166.30,206.8 166.48,193.8 166.66,195.9 166.84,189.2 167.02,194.5 167.20,191.6 167.38,199.2 167.56,192.6 167.74,199.5 167.92,191.9 168.10,195.8 168.28,194.7 168.46,197.7 168.64,193.2 168.82,196.3 169.00,193.6 169.18,196.3 169.36,191.7 169.54,198.3 169.72,194.1 169.90,196.0 170.08,193.4 170.26,195.5 170.44,194.4 170.62,200.9 170.80,193.8 170.98,198.1 171.16,192.6 171.34,196.9 171.52,205.1 171.70,209.0 171.88,207.2 172.06,200.1 172.24,192.4 172.42,197.2 172.60,195.5 172.78,199.7 172.96,194.4 173.14,195.9 173.32,194.2 173.50,201.4 173.68,188.5 173.86,199.4 174.04,194.0 174.22,196.0 174.40,194.5 174.58,196.6 174.76,195.2 174.94,201.6 175.12,194.1 175.30,197.6 175.48,192.8 175.66,198.6 175.84,189.2 176.02,200.4 176.20,192.1 176.38,197.2 176.56,190.2 176.74,197.8 176.92,193.3 177.10,197.4 177.28,193.1 177.46,197.6 177.64,194.1 177.82,198.2 178.00,189.6 178.18,195.2 178.36,192.4 178.54,193.9 178.72,190.7 178.90,193.3 179.08,192.1 179.26,196.1 179.44,190.2 179.62,194.9 179.80,191.5 179.98,195.7 180.16,191.5 180.34,197.5 180.52,189.5 180.70,200.3 180.88,187.1 181.06,195.7 181.24,190.3 181.42,195.4 181.60,190.8 181.78,194.0 181.96,191.6 182.14,195.0 182.32,193.2 182.50,195.5 182.68,190.2 182.86,194.9 183.04,191.8 183.22,196.0 183.40,192.2 183.58,195.4 183.76,187.3 183.94,195.8 184.12,194.0 184.30,199.0 184.48,192.3 184.66,201.0 184.84,194.5 185.02,199.1 185.20,192.1 185.38,197.3 185.56,193.3 185.74,196.9 185.92,194.8 186.10,182.0 186.28,181.3 186.46,198.1 186.64,191.6 186.82,195.0 187.00,191.6 187.18,194.9 187.36,190.6 187.54,197.1 187.72,189.7 187.90,197.3 188.08,192.8 188.26,197.3 188.44,193.2 188.62,193.9 188.80,193.0 188.98,197.0 189.16,190.3 189.34,197.5 189.52,192.3 189.70,199.8 189.88,191.3 190.06,197.2 190.24,192.9 190.42,194.8 190.60,192.7 190.78,198.9 190.96,189.9 191.14,200.4 191.32,189.9 191.50,195.9 191.68,194.7 191.86,197.2 192.04,195.1 192.22,196.3 192.40,194.8 192.58,196.8 192.76,190.5 192.94,194.3 193.12,193.9 193.30,196.6 193.48,192.2 193.66,194.2 193.84,191.0 194.02,199.0 194.20,189.8 194.38,197.2 194.56,192.1 194.74,195.2 194.92,192.5 195.10,194.5 195.28,190.8 195.46,194.9 195.64,188.2 195.82,195.2 196.00,189.9 196.18,195.8 196.36,193.3 196.54,201.3 196.72,193.9 196.90,199.6 197.08,189.8 197.26,195.9 197.44,193.7 197.62,196.1 197.80,195.0 197.98,195.5 198.16,189.6 198.34,196.9 198.52,194.0 198.70,195.7 198.88,192.9 199.06,199.2 199.24,194.0 199.42,196.3 199.60,195.0 199.78,197.2 199.96,190.5 200.14,196.1 200.32,189.8 200.50,196.5 200.68,194.6 200.86,195.1 201.04,194.5 201.22,200.1 201.40,184.4 201.58,195.1 201.76,191.6 201.94,197.3 202.12,192.1 202.30,195.4 202.48,193.5 202.66,195.1 202.84,191.1 203.02,195.2 203.20,192.3 203.38,194.8 203.56,193.7 203.74,195.0 203.92,193.3 204.10,197.9 204.28,194.1 204.46,195.6 204.64,191.9 204.82,200.7 205.00,191.2 205.18,199.8 205.36,190.9 205.54,197.1 205.72,193.0 205.90,196.4 206.00,194.5 206.18,196.7 206.36,195.1 206.54,213.5 206.72,206.1 206.90,215.7 207.08,208.8 207.26,215.5 207.44,207.4 207.62,214.6 207.80,206.1 207.98,210.3 208.16,204.7 208.34,212.7 208.52,207.2 208.70,210.6 208.88,207.8 209.06,211.5 209.24,209.1 209.42,211.4 209.60,207.9 209.78,215.3 209.96,209.2 210.14,213.7 210.32,203.1 210.50,211.6 210.68,207.2 210.86,210.0 211.04,205.9 211.22,213.9 211.40,207.0 211.58,209.6 211.76,208.9 211.94,212.4 212.12,208.0 212.30,209.5 212.48,208.9 212.66,212.3 212.84,207.8 213.02,209.5 213.20,208.5 213.38,210.1 213.56,203.3 213.74,216.6 213.92,208.1 214.10,212.6 214.28,208.8 214.46,211.1 214.64,207.2 214.82,210.1 215.00,205.5 215.18,209.9 215.36,204.8 215.54,210.5 215.72,206.1 215.90,177.9 216.08,180.0 216.26,215.0 216.44,203.5 216.62,209.9 216.80,206.1 216.98,209.0 217.16,206.9 217.34,210.3 217.52,207.2 217.70,212.6 217.88,208.5 218.06,210.0 218.24,209.0 218.42,212.8 218.60,208.8 218.78,210.5 218.96,208.0 219.14,216.7 219.32,208.5 219.50,212.7 219.68,207.9 219.86,211.1 220.04,208.8 220.22,213.4 220.40,206.3 220.58,213.7 220.76,208.8 220.94,210.3 221.12,205.1 221.30,210.9 221.48,208.3 221.66,211.0 221.84,208.5 222.02,212.5 222.20,208.6 222.38,210.8 222.56,204.3 222.74,195.9 222.92,195.0 223.10,192.6 223.28,208.0 223.46,210.1 223.64,203.7 223.82,209.7 224.00,208.4 224.18,214.5 224.36,206.8 224.54,210.7 224.72,205.8 224.90,209.4 225.08,206.5 225.26,209.8 225.44,207.6 225.62,210.0 225.80,209.1 225.98,210.8 226.16,208.1 226.34,209.2 226.52,206.1 226.70,211.8 226.88,207.2 227.06,210.7 227.24,188.3 227.42,191.6 227.60,192.0 227.78,194.0 227.96,206.0 228.14,208.8 228.32,204.4 228.50,211.4 228.68,207.7 228.86,209.4 229.04,205.6 229.22,210.0 229.40,203.2 229.58,208.6 229.76,205.4 229.94,209.6 230.12,207.7 230.30,212.1 230.48,207.4 230.66,209.9 230.84,208.8 231.00,196.0 231.18,191.0 231.36,195.7 231.54,193.1 231.72,197.9 231.90,193.9 232.08,196.1 232.26,192.9 232.44,197.8 232.62,194.9 232.80,196.0 232.98,191.4 233.16,199.5 233.34,195.8 233.52,198.1 233.70,193.1 233.88,197.5 234.06,192.0 234.24,198.5 234.42,193.3 234.60,198.2 234.78,195.8 234.96,196.8 235.14,193.6 235.32,198.2 235.50,193.8 235.68,197.7 235.86,192.3 236.04,197.6 236.22,195.2 236.40,196.5 236.58,194.3 236.76,202.2 236.94,187.4 237.12,197.4 237.30,195.0 237.48,197.7 237.66,193.0 237.84,197.0 238.02,194.1 238.20,196.4 238.38,190.4 238.56,198.2 238.74,194.9 238.92,198.4 239.10,190.6 239.28,196.1 239.46,190.9 239.64,196.8 239.82,191.8 240.00,212.4 240.18,205.4 240.36,209.9 240.54,206.8 240.72,212.1 240.90,207.0 241.08,214.7 241.26,208.7 241.44,215.5 241.62,206.1 241.80,211.7 241.98,209.0 242.00,197.1 242.18,193.0 242.36,196.6 242.54,191.6 242.72,199.8 242.90,193.7 243.08,195.5 243.26,212.6 243.44,196.3 243.62,188.2 243.80,197.5 243.98,192.8 244.16,198.0 244.34,193.1 244.52,181.4 244.70,181.4 244.88,194.1 245.06,186.0 245.24,197.0 245.42,188.6 245.60,194.6 245.78,185.8 245.96,178.4 246.14,192.3 246.32,195.1 246.50,192.9 246.68,199.9 246.86,188.9 247.04,195.6 247.22,192.5 247.40,194.2 247.58,191.0 247.76,196.4 247.94,188.5 248.12,196.4 248.30,192.4 248.48,200.4 248.66,188.6 248.84,195.4 249.02,191.6 249.20,195.3 249.38,192.4 249.56,195.6 249.74,189.7 249.92,196.6 250.10,188.5 250.28,194.0 250.46,187.5 250.64,198.2 250.82,190.5 251.00,196.5 251.18,191.9 251.36,198.7 251.54,193.1 251.72,195.9 251.90,187.6 252.08,194.6 252.26,193.3 252.44,195.5 252.62,193.1 252.80,203.3 252.98,193.1 253.16,195.8 253.34,194.8 253.52,197.8 253.70,192.2 253.88,197.0 254.06,194.8 254.24,196.7 254.42,192.9 254.60,197.2 254.78,191.1 254.96,196.5 255.14,194.2 255.32,198.0 255.50,195.6 255.68,198.1 255.86,195.3 256.04,197.1 256.22,195.8 256.40,197.7 256.58,195.2 256.76,199.5 256.94,194.9 257.12,196.7 257.30,193.7 257.48,195.1 257.66,189.7 257.84,195.6 258.02,191.8 258.20,198.1 258.38,189.7 258.56,201.7 258.74,192.4 258.92,197.6 259.10,190.6 259.28,199.1 259.46,193.7 259.64,197.6 259.82,195.0 260.00,195.3 260.18,188.0 260.36,197.0 260.54,191.0 260.72,200.7 260.90,193.7 261.08,195.9 261.26,186.9 261.44,195.7 261.62,195.2 261.80,202.0 261.98,193.6 262.16,203.4 262.34,192.7 262.52,201.4 262.70,191.9 262.88,197.2 263.06,190.3 263.24,196.8 263.42,194.2 263.60,199.9 263.78,190.8 263.96,197.4 264.14,191.0 264.32,195.8 264.50,190.7 264.68,195.3 264.86,184.2 265.04,195.1 265.22,192.8 265.40,196.7 265.58,190.6 265.76,197.1 265.94,190.3 266.12,194.9 266.30,193.1 266.48,196.8 266.66,213.1 266.84,211.1 267.02,190.2 267.20,198.9 267.38,191.8 267.56,194.8 267.74,191.1 267.92,195.8 268.00,204.1 268.18,210.1 268.36,205.4 268.54,214.0 268.72,208.9 268.90,213.3 269.08,207.6 269.26,214.1 269.44,205.6 269.62,214.4 269.80,204.4 269.98,196.1 270.16,203.7 270.34,210.0 270.52,207.4 270.70,210.7 270.88,208.8 271.06,213.0 271.24,208.1 271.42,214.0 271.60,203.8 271.78,197.5 271.96,203.6 272.14,214.0 272.32,207.6 272.50,212.0 272.68,208.4 272.86,212.0 273.04,207.0 273.22,210.5 273.40,208.3 273.58,211.7 273.76,206.0 273.94,214.0 274.12,208.1 274.30,208.6 274.48,202.5 274.66,195.0 274.84,196.4 275.02,211.5 275.20,208.2 275.38,209.2 275.56,203.7 275.74,209.5 275.92,201.4 276.10,213.0 276.28,205.8 276.46,211.4 276.64,204.9 276.82,214.0 277.00,209.5 277.18,212.6 277.36,204.2 277.54,210.5 277.72,207.7 277.90,210.9 278.08,208.2 278.26,211.8 278.44,207.6 278.62,214.4 278.80,206.8 278.98,211.5 279.16,206.0 279.34,212.5 279.52,206.3 279.70,209.7 279.88,208.2 280.06,213.4 280.24,206.3 280.42,209.8 280.60,204.4 280.78,210.5 280.96,207.7 281.14,215.2 281.32,205.9 281.50,209.5 281.68,205.9 281.86,211.1 282.04,206.2 282.22,207.7 282.40,202.3 282.58,209.9 282.76,204.3 282.94,208.9 283.12,208.4 283.30,211.8 283.48,206.9 283.66,212.3 283.84,207.4 284.02,210.4 284.20,203.3 284.38,208.8 284.56,203.1 284.74,213.6 284.92,206.1 285.10,210.1 285.28,202.5 285.46,209.1 285.64,206.4 285.82,214.1 286.00,208.1 286.18,210.4 286.36,206.6 286.54,210.0 286.72,206.8 286.90,215.7 287.08,208.2 287.26,210.1 287.44,208.0 287.62,213.9 287.80,206.1 287.98,208.7 288.16,205.1 288.34,214.7 288.52,206.6 288.70,211.4 288.88,207.8 289.06,210.8 289.24,206.1 289.42,209.6 289.60,205.8 289.78,210.2 289.96,205.8 290.14,213.2 290.32,201.0 290.50,212.4 290.68,206.9 290.86,198.5 291.04,198.1 291.22,200.8 291.40,197.3 291.58,212.3 291.76,210.1 291.94,218.4 292.12,208.6 292.30,213.6 292.48,205.1 292.66,212.0 292.84,208.0 293.02,211.4 293.20,210.1 293.38,211.2 293.56,209.1 293.74,210.9 293.92,207.1 294.10,217.1 294.28,207.2 294.46,209.9 294.64,206.3 294.82,214.5 295.00,208.1 295.18,210.9 295.36,205.6 295.54,212.2 295.72,208.9 295.90,211.4 296.08,207.5 296.26,213.8 296.44,203.6 296.62,215.5 296.80,210.1 296.98,213.6 297.16,208.2 297.34,212.2 297.52,206.9 297.70,211.5 297.88,207.1 298.06,213.6 298.24,207.4 298.42,210.9 298.60,208.5 298.78,210.5 298.96,202.8 299.14,210.3 299.32,205.7 299.50,210.1 299.68,204.7 299.86,210.2 300.04,205.5 300.22,212.5 300.40,208.0 300.58,210.9 300.76,208.2 300.94,214.7 301.12,209.9 301.30,213.1 301.48,208.4 301.66,211.1 301.84,204.3 302.02,211.7 302.20,207.5 302.38,213.4 302.56,206.2 302.74,218.2 302.92,206.3 303.10,190.8 303.28,182.7 303.46,179.3 303.64,180.2 303.82,212.1 304.00,208.4 304.18,209.4 304.36,206.2 304.54,213.1 304.72,207.1 304.90,215.3 305.08,207.6 305.26,212.6 305.44,206.5 305.62,212.4 305.80,205.8 305.98,211.7 306.16,206.5 306.34,211.6 306.52,207.9 306.70,210.6 306.88,206.1 307.06,210.2 307.24,207.5 307.42,213.1 307.60,205.4 307.78,210.9 307.96,208.9 308.14,211.8 308.32,207.2 308.50,209.2 308.68,206.6 308.86,212.4 309.04,207.2 309.22,214.0 309.40,206.5 309.58,210.7 309.76,204.0 309.94,210.3 310.12,201.8 310.30,209.6 310.48,206.4 310.66,209.1 310.84,205.9 311.02,209.8 311.20,208.1 311.38,209.4 311.56,209.0 311.74,193.4 311.92,194.5 312.10,192.6 312.28,208.6 312.46,214.4 312.64,207.8 312.82,210.3 313.00,207.8 313.18,211.5 313.36,201.8 313.54,209.4 313.72,205.6 313.90,209.8 314.08,204.0 314.26,211.7 314.44,207.8 314.62,211.3 314.80,209.0 314.98,210.8 315.16,204.8 315.34,208.7 315.52,205.4 315.70,211.8 315.88,202.6 316.06,209.9 316.24,204.8 316.42,212.2 316.60,206.9 316.78,217.1 316.96,209.2 317.14,211.3 317.32,208.0 317.50,210.5 317.68,209.2 317.86,213.3 318.04,205.3 318.22,212.3 318.40,207.4 318.58,194.2 318.76,180.1 318.94,181.1 319.12,178.1 319.30,212.6 319.48,207.6 319.66,209.5 319.84,205.7 320.02,209.5 320.20,208.0 320.38,211.1 320.56,205.5 320.74,211.2 320.92,208.9 321.10,212.7 321.28,208.2 321.46,212.1 321.64,201.7 321.82,215.7 322.00,204.6 322.18,217.5 322.36,205.8 322.54,211.3 322.72,205.9 322.90,214.5 323.08,208.0 323.26,213.2 323.44,210.6 323.62,216.1 323.80,208.8 323.98,214.3 324.16,204.1 324.34,215.0 324.52,206.4 324.70,211.2 324.88,205.9 325.06,213.9 325.24,209.5 325.42,214.6 325.60,209.8 325.78,212.9 325.96,210.7 326.14,214.0 326.32,210.3 326.50,197.4 326.68,198.7 326.86,197.7 327.04,209.6 327.22,211.2 327.40,205.8 327.58,214.1 327.76,205.6 327.94,212.3 328.12,206.7 328.30,211.5 328.48,207.5 328.66,212.4 328.84,207.1 329.02,211.5 329.20,207.6 329.38,213.8 329.56,210.0 329.74,211.4 329.92,209.3 330.00,201.0 330.18,195.3 330.36,198.8 330.54,195.3 330.72,196.8 330.90,190.7 331.08,196.8 331.26,190.0 331.44,196.0 331.62,193.0 331.80,199.6 331.98,192.6 332.16,197.4 332.34,192.4 332.52,200.9 332.70,191.3 332.88,196.2 333.06,195.4 333.24,200.0 333.42,195.1 333.60,200.3 333.78,191.5 333.96,195.8 334.14,190.7 334.32,195.4 334.50,192.7 334.68,195.4 334.86,191.9 335.04,197.7 335.22,189.6 335.40,198.2 335.58,192.4 335.76,197.0 335.94,192.1 336.12,195.5 336.30,189.6 336.48,196.0 336.66,192.4 336.84,194.6 337.02,190.3 337.20,193.8 337.38,189.7 337.56,195.8 337.74,190.1 337.92,200.2 338.10,193.5 338.28,198.8 338.46,193.5 338.64,195.2 338.82,193.5 339.00,196.8 339.18,193.9 339.36,201.1 339.54,193.6 339.72,195.4 339.90,193.2 340.08,198.4 340.26,189.9 340.44,195.6 340.62,194.7 340.80,195.5 340.98,194.4 341.16,199.9 341.34,193.7 341.52,198.2 341.70,195.1 341.88,196.4 342.06,189.0 342.24,198.2 342.42,195.0 342.60,196.3 342.78,190.5 342.96,196.7 343.14,192.9 343.32,198.1 343.50,195.3 343.68,195.8 343.86,191.8 344.04,202.3 344.22,194.5 344.40,196.0 344.58,194.9 344.76,195.3 344.94,194.8 345.12,197.6 345.30,189.6 345.48,202.0 345.66,194.0 345.84,195.3 346.02,194.3 346.20,197.0 346.38,190.6 346.56,196.5 346.74,191.4 346.92,210.3 347.10,210.4 347.28,212.5 347.46,192.6 347.64,195.8 347.82,192.6 348.00,196.4 348.18,191.2 348.36,196.5 348.54,193.9 348.72,196.5 348.90,193.1 349.08,196.5 349.26,192.7 349.44,196.5 349.62,189.6 349.80,197.6 349.98,191.6 350.16,198.2 350.34,194.0 350.52,196.5 350.70,192.9 350.88,200.0 351.06,194.5 351.24,199.8 351.42,193.9 351.60,195.3 351.78,192.9 351.96,195.0 352.14,192.9 352.32,196.8 352.50,192.4 352.68,196.5 352.86,191.9 353.04,197.9 353.22,190.6 353.40,199.4 353.58,192.1 353.76,196.3 353.94,192.2 354.12,198.7 354.30,192.7 354.48,194.7 354.66,192.4 354.84,194.4 355.02,193.8 355.20,195.3 355.38,192.1 355.56,197.9 355.74,193.0 355.92,198.6 356.10,192.1 356.28,198.0 356.46,192.6 356.64,196.6 356.82,193.2 357.00,202.2 357.18,193.0 357.36,198.4 357.54,194.1 357.72,195.6 357.90,192.5 358.08,196.2 358.26,189.3 358.44,196.8 358.62,194.1 358.80,195.6 358.98,192.5 359.16,195.9 359.34,194.2 359.52,201.1 359.70,193.6 359.88,197.4 360.06,192.4 360.24,198.1 360.42,192.4 360.60,196.7 360.78,193.3 360.96,197.1 361.14,189.5 361.32,200.1 361.50,194.8 361.68,197.8 361.86,193.8 362.04,195.6 362.22,191.5 362.40,196.0 362.58,193.4 362.76,196.2 362.94,191.2 363.12,195.9 363.30,194.3 363.48,197.2 363.66,190.8 363.84,196.8 364.02,193.7 364.20,195.2 364.38,189.1 364.56,197.6 364.74,189.7 364.92,198.4 365.10,193.3 365.28,198.6 365.46,192.1 365.64,200.0 365.82,193.7 366.00,195.4 366.18,189.8 366.36,199.5 366.54,193.4 366.72,200.0 366.90,194.1 367.08,200.0 367.26,194.8 367.44,197.4 367.62,194.5 367.80,195.0 367.98,192.0 368.16,197.2 368.34,193.3 368.52,195.5 368.70,190.6 368.88,199.8 369.06,192.8 369.24,200.0 369.42,193.4 369.60,195.5 369.78,192.9 369.96,197.8 370.14,194.5 370.32,197.9 370.50,194.4 370.68,196.0 370.86,192.1 371.04,195.5 371.22,192.2 371.40,197.9 371.58,190.8 371.76,196.1 371.94,194.0 372.12,198.1 372.30,193.2 372.48,198.6 372.66,193.4 372.84,200.6 373.02,195.0 373.20,196.0 373.38,194.2 373.56,199.5 373.74,194.3 373.92,195.9 374.10,193.4 374.28,196.9 374.46,193.7 374.64,199.7 374.82,194.0 375.00,198.4 375.18,194.4 375.36,201.0 375.54,193.9 375.72,195.6 375.90,194.6 376.08,195.2 376.26,194.4 376.44,196.8 376.62,192.1 376.80,195.0 376.98,190.4 377.16,196.4 377.34,192.3 377.52,195.7 377.70,193.2 377.88,194.3 378.06,193.1 378.24,195.9 378.42,189.5 378.60,202.7 378.78,192.0 378.96,203.5 379.14,194.0 379.32,196.1 379.50,193.6 379.68,197.5 379.86,194.6 380.04,195.8 380.22,192.1 380.40,197.6 380.58,189.2 380.76,195.7 380.94,194.1 381.12,196.4 381.30,193.0 381.48,200.1 381.66,191.5 381.84,194.5 382.02,191.3 382.20,196.1 382.38,193.6 382.56,195.1 382.74,193.9 382.92,199.0 383.00,204.3 383.18,215.3 383.36,205.8 383.54,211.2 383.72,209.1 383.90,210.6 384.08,208.6 384.26,210.0 384.44,208.6 384.62,213.9 384.80,209.2 384.98,216.2 385.16,205.9 385.34,210.5 385.52,207.3 385.70,210.7 385.88,207.0 386.06,212.6 386.24,208.7 386.42,210.8 386.60,208.5 386.78,184.7 386.96,182.1 387.14,180.2 387.32,207.2 387.50,209.6 387.68,206.7 387.86,209.2 388.04,208.3 388.22,212.0 388.40,205.1 388.58,191.4 388.76,191.6 388.94,211.6 389.12,208.6 389.30,209.6 389.48,205.4 389.66,210.7 389.84,204.9 390.02,210.2 390.20,207.6 390.38,212.6 390.56,207.4 390.74,213.2 390.92,206.9 391.10,211.8 391.28,204.7 391.46,210.5 391.64,209.2 391.82,214.3 392.00,206.8 392.18,210.8 392.36,206.3 392.54,208.6 392.72,206.7 392.90,213.5 393.08,206.6 393.26,210.6 393.44,206.9 393.62,210.5 393.80,208.6 393.98,209.5 394.16,209.4 394.34,213.4 394.52,206.7 394.70,215.3 394.88,208.1" fill="none" stroke="#EF8025" stroke-width="0.9" stroke-opacity="0.9" stroke-linejoin="round"/>
<polygon points="400.80,42.40 404.18,42.40 404.54,42.65 404.92,42.89 405.33,43.14 405.77,43.39 406.26,43.64 406.78,43.88 407.37,44.13 408.02,44.38 408.75,44.63 409.56,44.87 410.46,45.12 411.46,45.37 412.56,45.61 413.76,45.86 415.05,46.11 416.43,46.36 417.90,46.60 419.43,46.85 421.03,47.10 422.66,47.34 424.32,47.59 425.98,47.84 427.62,48.09 429.22,48.33 430.75,48.58 432.20,48.83 433.53,49.08 434.74,49.32 435.79,49.57 436.68,49.82 437.38,50.06 437.89,50.31 438.20,50.56 438.30,50.81 438.19,51.05 437.87,51.30 437.35,51.55 436.64,51.79 435.74,52.04 434.67,52.29 433.46,52.54 432.11,52.78 430.65,53.03 429.10,53.28 427.48,53.53 425.82,53.77 424.13,54.02 422.44,54.27 420.77,54.51 419.12,54.76 417.53,55.01 416.01,55.26 414.56,55.50 413.20,55.75 411.94,56.00 410.78,56.25 409.73,56.49 408.79,56.74 407.97,56.99 407.27,57.23 406.69,57.48 406.23,57.73 405.90,57.98 405.68,58.22 405.58,58.47 405.61,58.72 405.75,58.96 406.02,59.21 406.41,59.46 406.92,59.71 407.55,59.95 408.30,60.20 409.17,60.45 410.15,60.70 411.25,60.94 412.46,61.19 413.77,61.44 415.18,61.68 416.67,61.93 418.23,62.18 419.85,62.43 421.52,62.67 423.22,62.92 424.93,63.17 426.62,63.42 428.28,63.66 429.89,63.91 431.42,64.16 432.86,64.40 434.17,64.65 435.34,64.90 436.36,65.15 437.20,65.39 437.85,65.64 438.31,65.89 438.55,66.13 438.59,66.38 438.41,66.63 438.03,66.88 437.44,67.12 436.66,67.37 435.70,67.62 434.58,67.87 433.31,68.11 431.91,68.36 430.41,68.61 428.82,68.85 427.18,69.10 425.49,69.35 423.78,69.60 422.08,69.84 420.39,70.09 418.75,70.34 417.16,70.58 415.63,70.83 414.19,71.08 412.83,71.33 411.57,71.57 410.41,71.82 409.35,72.07 408.38,72.32 407.52,72.56 406.75,72.81 406.07,73.06 405.48,73.30 404.95,73.55 404.50,73.80 404.11,74.05 403.76,74.29 403.46,74.54 403.20,74.79 402.97,75.04 402.76,75.28 402.57,75.53 402.40,75.78 402.24,76.02 402.10,76.27 401.97,76.52 401.86,76.77 401.76,77.01 401.67,77.26 401.60,77.51 401.54,77.75 401.50,78.00 401.46,78.25 401.45,78.50 401.44,78.74 401.44,78.99 401.45,79.24 401.47,79.49 401.49,79.73 401.52,79.98 401.54,80.23 401.56,80.47 401.58,80.72 401.60,80.97 401.60,81.22 401.61,81.46 401.60,81.71 401.59,81.96 401.57,82.21 401.55,82.45 401.51,82.70 401.48,82.95 401.44,83.19 400.80,83.19" fill="#E8B42F"/>
<polygon points="435,49.2 444.3,50.7 435,52.3" fill="#E8B42F"/>
<polygon points="435,64.9 441.8,66.5 435,68" fill="#E8B42F"/>
<polyline points="404.18,42.40 404.54,42.65 404.92,42.89 405.33,43.14 405.77,43.39 406.26,43.64 406.78,43.88 407.37,44.13 408.02,44.38 408.75,44.63 409.56,44.87 410.46,45.12 411.46,45.37 412.56,45.61 413.76,45.86 415.05,46.11 416.43,46.36 417.90,46.60 419.43,46.85 421.03,47.10 422.66,47.34 424.32,47.59 425.98,47.84 427.62,48.09 429.22,48.33 430.75,48.58 432.20,48.83 433.53,49.08 434.74,49.32 435.79,49.57 436.68,49.82 437.38,50.06 437.89,50.31 438.20,50.56 438.30,50.81 438.19,51.05 437.87,51.30 437.35,51.55 436.64,51.79 435.74,52.04 434.67,52.29 433.46,52.54 432.11,52.78 430.65,53.03 429.10,53.28 427.48,53.53 425.82,53.77 424.13,54.02 422.44,54.27 420.77,54.51 419.12,54.76 417.53,55.01 416.01,55.26 414.56,55.50 413.20,55.75 411.94,56.00 410.78,56.25 409.73,56.49 408.79,56.74 407.97,56.99 407.27,57.23 406.69,57.48 406.23,57.73 405.90,57.98 405.68,58.22 405.58,58.47 405.61,58.72 405.75,58.96 406.02,59.21 406.41,59.46 406.92,59.71 407.55,59.95 408.30,60.20 409.17,60.45 410.15,60.70 411.25,60.94 412.46,61.19 413.77,61.44 415.18,61.68 416.67,61.93 418.23,62.18 419.85,62.43 421.52,62.67 423.22,62.92 424.93,63.17 426.62,63.42 428.28,63.66 429.89,63.91 431.42,64.16 432.86,64.40 434.17,64.65 435.34,64.90 436.36,65.15 437.20,65.39 437.85,65.64 438.31,65.89 438.55,66.13 438.59,66.38 438.41,66.63 438.03,66.88 437.44,67.12 436.66,67.37 435.70,67.62 434.58,67.87 433.31,68.11 431.91,68.36 430.41,68.61 428.82,68.85 427.18,69.10 425.49,69.35 423.78,69.60 422.08,69.84 420.39,70.09 418.75,70.34 417.16,70.58 415.63,70.83 414.19,71.08 412.83,71.33 411.57,71.57 410.41,71.82 409.35,72.07 408.38,72.32 407.52,72.56 406.75,72.81 406.07,73.06 405.48,73.30 404.95,73.55 404.50,73.80 404.11,74.05 403.76,74.29 403.46,74.54 403.20,74.79 402.97,75.04 402.76,75.28 402.57,75.53 402.40,75.78 402.24,76.02 402.10,76.27 401.97,76.52 401.86,76.77 401.76,77.01 401.67,77.26 401.60,77.51 401.54,77.75 401.50,78.00 401.46,78.25 401.45,78.50 401.44,78.74 401.44,78.99 401.45,79.24 401.47,79.49 401.49,79.73 401.52,79.98 401.54,80.23 401.56,80.47 401.58,80.72 401.60,80.97 401.60,81.22 401.61,81.46 401.60,81.71 401.59,81.96 401.57,82.21 401.55,82.45 401.51,82.70 401.48,82.95 401.44,83.19 401.39,83.44 401.35,83.69 401.30,83.94 401.25,84.18 401.20,84.43 401.16,84.68 401.11,84.92 401.07,85.17 401.03,85.42 401.00,85.67 400.97,85.91 400.94,86.16 400.92,86.41 400.90,86.66 400.88,86.90 400.86,87.15 400.85,87.40 400.84,87.64 400.83,87.89 400.82,88.14 400.82,88.39 400.81,88.63 400.81,88.88 400.81,89.13 400.81,89.37 400.80,89.62 400.80,89.87 400.80,90.12 400.80,90.36 400.80,90.61 400.80,90.86 400.80,91.11 400.80,91.35 400.80,91.60" fill="none" stroke="#111" stroke-width="1.3"/>
<polygon points="400.70,107.24 401.36,107.24 401.50,107.53 401.67,107.81 401.87,108.09 402.10,108.38 402.37,108.66 402.67,108.95 403.01,109.23 403.39,109.51 403.82,109.80 404.29,110.08 404.81,110.37 405.36,110.65 405.96,110.93 406.60,111.22 407.27,111.50 407.96,111.79 408.68,112.07 409.42,112.35 410.15,112.64 410.89,112.92 411.60,113.21 412.30,113.49 412.95,113.77 413.56,114.06 414.11,114.34 414.59,114.62 414.99,114.91 415.31,115.19 415.53,115.48 415.67,115.76 415.70,116.04 415.64,116.33 415.48,116.61 415.22,116.90 414.88,117.18 414.46,117.46 413.96,117.75 413.40,118.03 412.78,118.32 412.13,118.60 411.44,118.88 410.74,119.17 410.03,119.45 409.33,119.74 408.65,120.02 407.99,120.30 407.38,120.59 406.82,120.87 406.32,121.15 405.89,121.44 405.55,121.72 405.29,122.01 405.12,122.29 405.07,122.57 405.13,122.86 405.32,123.14 405.65,123.43 406.12,123.71 406.74,123.99 407.53,124.28 408.50,124.56 409.64,124.85 410.97,125.13 412.48,125.41 414.19,125.70 416.09,125.98 418.17,126.27 420.43,126.55 422.85,126.83 425.41,127.12 428.09,127.40 430.86,127.68 433.69,127.97 436.54,128.25 439.37,128.54 442.14,128.82 444.80,129.10 447.30,129.39 449.61,129.67 451.67,129.96 453.46,130.24 454.92,130.52 456.05,130.81 456.80,131.09 457.17,131.38 457.14,131.66 456.73,131.94 455.93,132.23 454.77,132.51 453.27,132.80 451.45,133.08 449.36,133.36 447.04,133.65 444.53,133.93 441.87,134.22 439.11,134.50 436.30,134.78 433.49,135.07 430.71,135.35 427.99,135.63 425.39,135.92 422.91,136.20 420.60,136.49 418.46,136.77 416.52,137.05 414.78,137.34 413.25,137.62 411.93,137.91 410.82,138.19 409.92,138.47 409.23,138.76 408.72,139.04 408.41,139.33 408.26,139.61 408.28,139.89 408.45,140.18 408.75,140.46 409.17,140.75 409.70,141.03 410.32,141.31 411.01,141.60 411.75,141.88 412.54,142.16 413.35,142.45 414.17,142.73 414.97,143.02 415.75,143.30 416.48,143.58 417.14,143.87 417.74,144.15 418.25,144.44 418.65,144.72 418.95,145.00 419.14,145.29 419.21,145.57 419.16,145.86 418.99,146.14 418.70,146.42 418.30,146.71 417.80,146.99 417.20,147.28 416.52,147.56 415.77,147.84 414.96,148.13 414.10,148.41 413.21,148.69 412.31,148.98 411.40,149.26 410.50,149.55 409.61,149.83 408.75,150.11 407.93,150.40 407.15,150.68 406.41,150.97 405.73,151.25 405.09,151.53 404.52,151.82 403.99,152.10 403.52,152.39 403.11,152.67 402.74,152.95 402.41,153.24 402.13,153.52 401.88,153.81 401.68,154.09 401.50,154.37 401.35,154.66 400.70,154.66" fill="#EC9F33"/>
<polyline points="400.71,102.70 400.71,102.98 400.72,103.27 400.73,103.55 400.74,103.84 400.75,104.12 400.76,104.40 400.78,104.69 400.80,104.97 400.83,105.26 400.87,105.54 400.92,105.82 400.98,106.11 401.05,106.39 401.13,106.67 401.23,106.96 401.36,107.24 401.50,107.53 401.67,107.81 401.87,108.09 402.10,108.38 402.37,108.66 402.67,108.95 403.01,109.23 403.39,109.51 403.82,109.80 404.29,110.08 404.81,110.37 405.36,110.65 405.96,110.93 406.60,111.22 407.27,111.50 407.96,111.79 408.68,112.07 409.42,112.35 410.15,112.64 410.89,112.92 411.60,113.21 412.30,113.49 412.95,113.77 413.56,114.06 414.11,114.34 414.59,114.62 414.99,114.91 415.31,115.19 415.53,115.48 415.67,115.76 415.70,116.04 415.64,116.33 415.48,116.61 415.22,116.90 414.88,117.18 414.46,117.46 413.96,117.75 413.40,118.03 412.78,118.32 412.13,118.60 411.44,118.88 410.74,119.17 410.03,119.45 409.33,119.74 408.65,120.02 407.99,120.30 407.38,120.59 406.82,120.87 406.32,121.15 405.89,121.44 405.55,121.72 405.29,122.01 405.12,122.29 405.07,122.57 405.13,122.86 405.32,123.14 405.65,123.43 406.12,123.71 406.74,123.99 407.53,124.28 408.50,124.56 409.64,124.85 410.97,125.13 412.48,125.41 414.19,125.70 416.09,125.98 418.17,126.27 420.43,126.55 422.85,126.83 425.41,127.12 428.09,127.40 430.86,127.68 433.69,127.97 436.54,128.25 439.37,128.54 442.14,128.82 444.80,129.10 447.30,129.39 449.61,129.67 451.67,129.96 453.46,130.24 454.92,130.52 456.05,130.81 456.80,131.09 457.17,131.38 457.14,131.66 456.73,131.94 455.93,132.23 454.77,132.51 453.27,132.80 451.45,133.08 449.36,133.36 447.04,133.65 444.53,133.93 441.87,134.22 439.11,134.50 436.30,134.78 433.49,135.07 430.71,135.35 427.99,135.63 425.39,135.92 422.91,136.20 420.60,136.49 418.46,136.77 416.52,137.05 414.78,137.34 413.25,137.62 411.93,137.91 410.82,138.19 409.92,138.47 409.23,138.76 408.72,139.04 408.41,139.33 408.26,139.61 408.28,139.89 408.45,140.18 408.75,140.46 409.17,140.75 409.70,141.03 410.32,141.31 411.01,141.60 411.75,141.88 412.54,142.16 413.35,142.45 414.17,142.73 414.97,143.02 415.75,143.30 416.48,143.58 417.14,143.87 417.74,144.15 418.25,144.44 418.65,144.72 418.95,145.00 419.14,145.29 419.21,145.57 419.16,145.86 418.99,146.14 418.70,146.42 418.30,146.71 417.80,146.99 417.20,147.28 416.52,147.56 415.77,147.84 414.96,148.13 414.10,148.41 413.21,148.69 412.31,148.98 411.40,149.26 410.50,149.55 409.61,149.83 408.75,150.11 407.93,150.40 407.15,150.68 406.41,150.97 405.73,151.25 405.09,151.53 404.52,151.82 403.99,152.10 403.52,152.39 403.11,152.67 402.74,152.95 402.41,153.24 402.13,153.52 401.88,153.81 401.68,154.09 401.50,154.37 401.35,154.66 401.23,154.94 401.12,155.23 401.04,155.51 400.97,155.79 400.91,156.08 400.86,156.36 400.83,156.64 400.80,156.93 400.78,157.21 400.76,157.50 400.74,157.78 400.73,158.06 400.72,158.35 400.72,158.63 400.71,158.92 400.71,159.20" fill="none" stroke="#111" stroke-width="1.3"/>
<polygon points="400.20,180.87 400.82,180.87 400.86,181.11 400.89,181.36 400.92,181.60 400.95,181.84 400.97,182.09 400.99,182.33 401.01,182.57 401.02,182.82 401.03,183.06 401.03,183.31 401.04,183.55 401.03,183.79 401.03,184.04 401.03,184.28 401.03,184.52 401.03,184.77 401.04,185.01 401.05,185.25 401.07,185.50 401.10,185.74 401.15,185.99 401.21,186.23 401.29,186.47 401.39,186.72 401.52,186.96 401.69,187.20 401.88,187.45 402.12,187.69 402.40,187.94 402.73,188.18 403.11,188.42 403.55,188.67 404.05,188.91 404.61,189.15 405.25,189.40 405.97,189.64 406.77,189.89 407.64,190.13 408.61,190.37 409.66,190.62 410.80,190.86 412.02,191.10 413.33,191.35 414.72,191.59 416.19,191.84 417.74,192.08 419.34,192.32 421.01,192.57 422.71,192.81 424.45,193.05 426.21,193.30 427.97,193.54 429.71,193.78 431.43,194.03 433.10,194.27 434.71,194.52 436.23,194.76 437.66,195.00 438.96,195.25 440.14,195.49 441.17,195.73 442.03,195.98 442.73,196.22 443.24,196.47 443.57,196.71 443.71,196.95 443.65,197.20 443.40,197.44 442.96,197.68 442.34,197.93 441.55,198.17 440.59,198.42 439.49,198.66 438.25,198.90 436.88,199.15 435.42,199.39 433.87,199.63 432.26,199.88 430.60,200.12 428.91,200.37 427.22,200.61 425.53,200.85 423.87,201.10 422.26,201.34 420.70,201.58 419.21,201.83 417.81,202.07 416.51,202.32 415.31,202.56 414.22,202.80 413.25,203.05 412.41,203.29 411.70,203.53 411.13,203.78 410.69,204.02 410.38,204.26 410.21,204.51 410.18,204.75 410.28,205.00 410.50,205.24 410.86,205.48 411.33,205.73 411.91,205.97 412.60,206.21 413.39,206.46 414.27,206.70 415.23,206.95 416.26,207.19 417.35,207.43 418.48,207.68 419.65,207.92 420.83,208.16 422.02,208.41 423.20,208.65 424.35,208.90 425.47,209.14 426.53,209.38 427.53,209.63 428.44,209.87 429.26,210.11 429.98,210.36 430.59,210.60 431.07,210.85 431.42,211.09 431.64,211.33 431.71,211.58 431.65,211.82 431.46,212.06 431.12,212.31 430.65,212.55 430.06,212.79 429.35,213.04 428.53,213.28 427.61,213.53 426.60,213.77 425.51,214.01 424.37,214.26 423.17,214.50 421.93,214.74 420.67,214.99 419.40,215.23 418.12,215.48 416.86,215.72 415.62,215.96 414.40,216.21 413.23,216.45 412.09,216.69 411.01,216.94 409.98,217.18 409.01,217.43 408.10,217.67 407.26,217.91 406.47,218.16 405.75,218.40 405.09,218.64 404.49,218.89 403.95,219.13 403.46,219.38 403.02,219.62 402.63,219.86 402.28,220.11 401.98,220.35 401.71,220.59 401.48,220.84 401.28,221.08 401.11,221.33 400.96,221.57 400.83,221.81 400.20,221.81" fill="#E08131"/>
<polygon points="440,195.8 445.5,197.1 440,198.4" fill="#E08131"/>
<polyline points="400.21,173.80 400.21,174.04 400.21,174.29 400.21,174.53 400.22,174.77 400.22,175.02 400.23,175.26 400.24,175.51 400.24,175.75 400.25,175.99 400.26,176.24 400.28,176.48 400.29,176.72 400.31,176.97 400.32,177.21 400.35,177.46 400.37,177.70 400.39,177.94 400.42,178.19 400.45,178.43 400.48,178.67 400.52,178.92 400.55,179.16 400.59,179.41 400.63,179.65 400.67,179.89 400.71,180.14 400.75,180.38 400.79,180.62 400.82,180.87 400.86,181.11 400.89,181.36 400.92,181.60 400.95,181.84 400.97,182.09 400.99,182.33 401.01,182.57 401.02,182.82 401.03,183.06 401.03,183.31 401.04,183.55 401.03,183.79 401.03,184.04 401.03,184.28 401.03,184.52 401.03,184.77 401.04,185.01 401.05,185.25 401.07,185.50 401.10,185.74 401.15,185.99 401.21,186.23 401.29,186.47 401.39,186.72 401.52,186.96 401.69,187.20 401.88,187.45 402.12,187.69 402.40,187.94 402.73,188.18 403.11,188.42 403.55,188.67 404.05,188.91 404.61,189.15 405.25,189.40 405.97,189.64 406.77,189.89 407.64,190.13 408.61,190.37 409.66,190.62 410.80,190.86 412.02,191.10 413.33,191.35 414.72,191.59 416.19,191.84 417.74,192.08 419.34,192.32 421.01,192.57 422.71,192.81 424.45,193.05 426.21,193.30 427.97,193.54 429.71,193.78 431.43,194.03 433.10,194.27 434.71,194.52 436.23,194.76 437.66,195.00 438.96,195.25 440.14,195.49 441.17,195.73 442.03,195.98 442.73,196.22 443.24,196.47 443.57,196.71 443.71,196.95 443.65,197.20 443.40,197.44 442.96,197.68 442.34,197.93 441.55,198.17 440.59,198.42 439.49,198.66 438.25,198.90 436.88,199.15 435.42,199.39 433.87,199.63 432.26,199.88 430.60,200.12 428.91,200.37 427.22,200.61 425.53,200.85 423.87,201.10 422.26,201.34 420.70,201.58 419.21,201.83 417.81,202.07 416.51,202.32 415.31,202.56 414.22,202.80 413.25,203.05 412.41,203.29 411.70,203.53 411.13,203.78 410.69,204.02 410.38,204.26 410.21,204.51 410.18,204.75 410.28,205.00 410.50,205.24 410.86,205.48 411.33,205.73 411.91,205.97 412.60,206.21 413.39,206.46 414.27,206.70 415.23,206.95 416.26,207.19 417.35,207.43 418.48,207.68 419.65,207.92 420.83,208.16 422.02,208.41 423.20,208.65 424.35,208.90 425.47,209.14 426.53,209.38 427.53,209.63 428.44,209.87 429.26,210.11 429.98,210.36 430.59,210.60 431.07,210.85 431.42,211.09 431.64,211.33 431.71,211.58 431.65,211.82 431.46,212.06 431.12,212.31 430.65,212.55 430.06,212.79 429.35,213.04 428.53,213.28 427.61,213.53 426.60,213.77 425.51,214.01 424.37,214.26 423.17,214.50 421.93,214.74 420.67,214.99 419.40,215.23 418.12,215.48 416.86,215.72 415.62,215.96 414.40,216.21 413.23,216.45 412.09,216.69 411.01,216.94 409.98,217.18 409.01,217.43 408.10,217.67 407.26,217.91 406.47,218.16 405.75,218.40 405.09,218.64 404.49,218.89 403.95,219.13 403.46,219.38 403.02,219.62 402.63,219.86 402.28,220.11 401.98,220.35 401.71,220.59 401.48,220.84 401.28,221.08 401.11,221.33 400.96,221.57 400.83,221.81 400.72,222.06 400.63,222.30" fill="none" stroke="#111" stroke-width="1.3"/>
<line x1="35.50" y1="50.40" x2="458.60" y2="50.40" stroke="#2a2a35" stroke-width="1.05" stroke-dasharray="1.3 2.5"/>
<line x1="35.50" y1="66.00" x2="458.60" y2="66.00" stroke="#2a2a35" stroke-width="1.05" stroke-dasharray="1.3 2.5"/>
<line x1="35.50" y1="81.50" x2="458.60" y2="81.50" stroke="#2a2a35" stroke-width="1.05" stroke-dasharray="1.3 2.5"/>
<line x1="35.50" y1="115.00" x2="458.60" y2="115.00" stroke="#2a2a35" stroke-width="1.05" stroke-dasharray="1.3 2.5"/>
<line x1="35.50" y1="130.80" x2="458.60" y2="130.80" stroke="#2a2a35" stroke-width="1.05" stroke-dasharray="1.3 2.5"/>
<line x1="35.50" y1="146.00" x2="458.60" y2="146.00" stroke="#2a2a35" stroke-width="1.05" stroke-dasharray="1.3 2.5"/>
<line x1="35.50" y1="180.80" x2="458.60" y2="180.80" stroke="#2a2a35" stroke-width="1.05" stroke-dasharray="1.3 2.5"/>
<line x1="35.50" y1="196.20" x2="458.60" y2="196.20" stroke="#2a2a35" stroke-width="1.05" stroke-dasharray="1.3 2.5"/>
<line x1="35.50" y1="212.00" x2="458.60" y2="212.00" stroke="#2a2a35" stroke-width="1.05" stroke-dasharray="1.3 2.5"/>
<text x="34.30" y="38.60" font-size="12.9" text-anchor="start" font-weight="bold" fill="#000" font-family='"Liberation Sans", sans-serif' >8.4 pN</text>
<text x="34.30" y="107.10" font-size="12.9" text-anchor="start" font-weight="bold" fill="#000" font-family='"Liberation Sans", sans-serif' >7.8 pN</text>
<text x="34.30" y="172.10" font-size="12.9" text-anchor="start" font-weight="bold" fill="#000" font-family='"Liberation Sans", sans-serif' >7.2 pN</text>
<line x1="343.00" y1="40.20" x2="354.30" y2="40.20" stroke="#1B4F8B" stroke-width="1.4" />
<polygon points="340.3,40.2 344.3,37.6 344.3,42.8" fill="#1B4F8B"/>
<polygon points="357,40.2 353,37.6 353,42.8" fill="#1B4F8B"/>
<text x="348.60" y="33.60" font-size="14" text-anchor="middle" font-weight="normal" fill="#1B4F8B" font-family='"Liberation Serif", serif' >τ</text>
<line x1="452.60" y1="69.50" x2="452.60" y2="77.80" stroke="#2DAA3F" stroke-width="1.3" />
<polygon points="452.6,66.6 450.0,70.2 455.2,70.2" fill="#2DAA3F"/>
<polygon points="452.6,80.7 450.0,77.1 455.2,77.1" fill="#2DAA3F"/>
<text transform="translate(467.6,80.2) rotate(-90)" font-size="10" fill="#4DBB5A" font-family='"Liberation Serif", serif'>Δz</text>
<text x="461.60" y="118.90" font-size="11" text-anchor="start" font-weight="normal" fill="#000" font-family='"Liberation Sans", sans-serif' >T</text>
<text x="461.60" y="135.60" font-size="11" text-anchor="start" font-weight="normal" fill="#000" font-family='"Liberation Sans", sans-serif' >M</text>
<text x="461.60" y="149.80" font-size="11" text-anchor="start" font-weight="normal" fill="#000" font-family='"Liberation Sans", sans-serif' >B</text>
<line x1="32.50" y1="201.90" x2="32.50" y2="222.30" stroke="#000" stroke-width="1.3" />
<line x1="31.85" y1="222.30" x2="49.30" y2="222.30" stroke="#000" stroke-width="1.3" />
<text transform="translate(27.5,225.8) rotate(-90)" font-size="10.2" font-family='"Liberation Sans", sans-serif'>10 nm</text>
<text x="31.00" y="234.80" font-size="10.3" text-anchor="start" font-weight="normal" fill="#000" font-family='"Liberation Sans", sans-serif' >10 s</text>
<line x1="396.20" y1="225.30" x2="419.80" y2="225.30" stroke="#000" stroke-width="1.3" />
<text x="380.20" y="237.30" font-size="10.7" text-anchor="start" font-weight="normal" fill="#000" font-family='"Liberation Sans", sans-serif' >500 Counts</text>
<line x1="52.90" y1="270.80" x2="52.90" y2="466.80" stroke="#000" stroke-width="1.5" />
<line x1="52.15" y1="466.00" x2="244.30" y2="466.00" stroke="#000" stroke-width="1.5" />
<line x1="48.60" y1="466.00" x2="52.90" y2="466.00" stroke="#000" stroke-width="1.2" />
<text x="44.80" y="469.70" font-size="10.5" text-anchor="end" font-weight="normal" fill="#000" font-family='"Liberation Sans", sans-serif' >0</text>
<line x1="48.60" y1="372.30" x2="52.90" y2="372.30" stroke="#000" stroke-width="1.2" />
<text x="44.80" y="376.00" font-size="10.5" text-anchor="end" font-weight="normal" fill="#000" font-family='"Liberation Sans", sans-serif' >0.5</text>
<line x1="48.60" y1="278.60" x2="52.90" y2="278.60" stroke="#000" stroke-width="1.2" />
<text x="44.80" y="282.30" font-size="10.5" text-anchor="end" font-weight="normal" fill="#000" font-family='"Liberation Sans", sans-serif' >1</text>
<line x1="79.40" y1="466.00" x2="79.40" y2="470.60" stroke="#000" stroke-width="1.2" />
<text x="79.40" y="482.40" font-size="10.5" text-anchor="middle" font-weight="normal" fill="#000" font-family='"Liberation Sans", sans-serif' >6</text>
<line x1="132.80" y1="466.00" x2="132.80" y2="470.60" stroke="#000" stroke-width="1.2" />
<text x="132.80" y="482.40" font-size="10.5" text-anchor="middle" font-weight="normal" fill="#000" font-family='"Liberation Sans", sans-serif' >8</text>
<line x1="186.20" y1="466.00" x2="186.20" y2="470.60" stroke="#000" stroke-width="1.2" />
<text x="186.20" y="482.40" font-size="10.5" text-anchor="middle" font-weight="normal" fill="#000" font-family='"Liberation Sans", sans-serif' >10</text>
<line x1="239.60" y1="466.00" x2="239.60" y2="470.60" stroke="#000" stroke-width="1.2" />
<text x="239.60" y="482.40" font-size="10.5" text-anchor="middle" font-weight="normal" fill="#000" font-family='"Liberation Sans", sans-serif' >12</text>
<text transform="translate(127.60,499.60) scale(0.735,1)" font-size="12" text-anchor="start" font-weight="normal" fill="#000" stroke="#000" stroke-width="0.3" font-family='"Liberation Sans", sans-serif'>Force (pN)</text>
<text transform="translate(20.80,384.00) rotate(-90) scale(0.72,1)" font-size="12" text-anchor="start" font-weight="normal" fill="#000" stroke="#000" stroke-width="0.3" font-family='"Liberation Sans", sans-serif'>Fraction</text>
<polyline points="52.70,462.16 53.33,462.02 53.95,461.87 54.58,461.71 55.20,461.56 55.83,461.39 56.45,461.22 57.08,461.04 57.70,460.86 58.33,460.67 58.95,460.47 59.58,460.26 60.20,460.05 60.83,459.83 61.45,459.61 62.08,459.37 62.70,459.13 63.33,458.87 63.95,458.61 64.58,458.34 65.20,458.06 65.83,457.77 66.45,457.48 67.08,457.17 67.70,456.85 68.33,456.51 68.95,456.17 69.58,455.82 70.20,455.45 70.83,455.07 71.45,454.68 72.08,454.28 72.70,453.86 73.33,453.43 73.95,452.98 74.58,452.52 75.20,452.05 75.83,451.56 76.45,451.05 77.08,450.53 77.70,449.99 78.33,449.44 78.95,448.87 79.58,448.28 80.20,447.67 80.83,447.05 81.45,446.41 82.08,445.74 82.70,445.06 83.33,444.36 83.95,443.64 84.58,442.90 85.20,442.14 85.83,441.36 86.45,440.55 87.08,439.73 87.70,438.88 88.33,438.02 88.95,437.13 89.58,436.22 90.21,435.28 90.83,434.33 91.46,433.35 92.08,432.36 92.71,431.34 93.33,430.29 93.96,429.23 94.58,428.15 95.21,427.04 95.83,425.92 96.46,424.77 97.08,423.61 97.71,422.42 98.33,421.22 98.96,420.00 99.58,418.76 100.21,417.51 100.83,416.24 101.46,414.95 102.08,413.66 102.71,412.35 103.33,411.03 103.96,409.70 104.58,408.37 105.21,407.02 105.83,405.68 106.46,404.33 107.08,402.98 107.71,401.63 108.33,400.28 108.96,398.94 109.58,397.60 110.21,396.28 110.83,394.96 111.46,393.66 112.08,392.38 112.71,391.11 113.33,389.86 113.96,388.64 114.58,387.44 115.21,386.28 115.83,385.14 116.46,384.04 117.08,382.97 117.71,381.94 118.33,380.95 118.96,380.01 119.58,379.11 120.21,378.25 120.83,377.45 121.46,376.70 122.08,376.00 122.71,375.36 123.33,374.78 123.96,374.26 124.58,373.79 125.21,373.39 125.83,373.05 126.46,372.77 127.08,372.56 127.71,372.42 128.34,372.33 128.96,372.32 129.59,372.37 130.21,372.48 130.84,372.67 131.46,372.91 132.09,373.22 132.71,373.59 133.34,374.03 133.96,374.53 134.59,375.08 135.21,375.70 135.84,376.37 136.46,377.09 137.09,377.87 137.71,378.70 138.34,379.58 138.96,380.50 139.59,381.47 140.21,382.48 140.84,383.53 141.46,384.62 142.09,385.74 142.71,386.89 143.34,388.07 143.96,389.28 144.59,390.52 145.21,391.78 145.84,393.05 146.46,394.35 147.09,395.66 147.71,396.98 148.34,398.31 148.96,399.65 149.59,400.99 150.21,402.34 150.84,403.69 151.46,405.04 152.09,406.39 152.71,407.73 153.34,409.07 153.96,410.41 154.59,411.73 155.21,413.04 155.84,414.34 156.46,415.63 157.09,416.91 157.71,418.17 158.34,419.42 158.96,420.65 159.59,421.86 160.21,423.05 160.84,424.22 161.46,425.38 162.09,426.51 162.71,427.63 163.34,428.72 163.96,429.80 164.59,430.85 165.22,431.88 165.84,432.89 166.47,433.87 167.09,434.84 167.72,435.78 168.34,436.70 168.97,437.60 169.59,438.48 170.22,439.33 170.84,440.17 171.47,440.98 172.09,441.77 172.72,442.54 173.34,443.29 173.97,444.02 174.59,444.73 175.22,445.42 175.84,446.10 176.47,446.75 177.09,447.38 177.72,448.00 178.34,448.59 178.97,449.17 179.59,449.74 180.22,450.28 180.84,450.81 181.47,451.32 182.09,451.82 182.72,452.30 183.34,452.77 183.97,453.22 184.59,453.66 185.22,454.08 185.84,454.49 186.47,454.89 187.09,455.27 187.72,455.65 188.34,456.01 188.97,456.35 189.59,456.69 190.22,457.02 190.84,457.33 191.47,457.63 192.09,457.93 192.72,458.21 193.34,458.49 193.97,458.75 194.59,459.01 195.22,459.26 195.84,459.50 196.47,459.73 197.09,459.95 197.72,460.17 198.34,460.37 198.97,460.57 199.59,460.77 200.22,460.95 200.84,461.14 201.47,461.31 202.09,461.48 202.72,461.64 203.35,461.80 203.97,461.95 204.60,462.09 205.22,462.23 205.85,462.37 206.47,462.50 207.10,462.63 207.72,462.75 208.35,462.87 208.97,462.98 209.60,463.09 210.22,463.19 210.85,463.30 211.47,463.39 212.10,463.49 212.72,463.58 213.35,463.67 213.97,463.75 214.60,463.83 215.22,463.91 215.85,463.99 216.47,464.06 217.10,464.13 217.72,464.20 218.35,464.27 218.97,464.33 219.60,464.39 220.22,464.45 220.85,464.51 221.47,464.56 222.10,464.61 222.72,464.66 223.35,464.71 223.97,464.76 224.60,464.80 225.22,464.85 225.85,464.89 226.47,464.93 227.10,464.97 227.72,465.01 228.35,465.04 228.97,465.08 229.60,465.11 230.22,465.15 230.85,465.18 231.47,465.21 232.10,465.24 232.72,465.26 233.35,465.29 233.97,465.32 234.60,465.34 235.22,465.37 235.85,465.39 236.47,465.41 237.10,465.43 237.72,465.45 238.35,465.47 238.97,465.49 239.60,465.51" fill="none" stroke="#3AB54A" stroke-width="1.75"/>
<polyline points="52.70,282.46 53.33,282.60 53.95,282.75 54.58,282.91 55.20,283.07 55.83,283.24 56.45,283.41 57.08,283.59 57.70,283.78 58.33,283.97 58.95,284.17 59.58,284.38 60.20,284.60 60.83,284.82 61.45,285.05 62.08,285.29 62.70,285.54 63.33,285.80 63.95,286.06 64.58,286.34 65.20,286.62 65.83,286.92 66.45,287.23 67.08,287.54 67.70,287.87 68.33,288.21 68.95,288.57 69.58,288.93 70.20,289.31 70.83,289.70 71.45,290.10 72.08,290.52 72.70,290.95 73.33,291.40 73.95,291.86 74.58,292.34 75.20,292.83 75.83,293.34 76.45,293.87 77.08,294.42 77.70,294.98 78.33,295.56 78.95,296.16 79.58,296.78 80.20,297.42 80.83,298.09 81.45,298.77 82.08,299.47 82.70,300.20 83.33,300.95 83.95,301.72 84.58,302.52 85.20,303.34 85.83,304.18 86.45,305.05 87.08,305.95 87.70,306.87 88.33,307.82 88.95,308.80 89.58,309.80 90.21,310.84 90.83,311.90 91.46,312.99 92.08,314.11 92.71,315.26 93.33,316.44 93.96,317.65 94.58,318.89 95.21,320.16 95.83,321.46 96.46,322.80 97.08,324.16 97.71,325.56 98.33,326.99 98.96,328.45 99.58,329.94 100.21,331.47 100.83,333.02 101.46,334.61 102.08,336.22 102.71,337.87 103.33,339.55 103.96,341.25 104.58,342.99 105.21,344.75 105.83,346.54 106.46,348.36 107.08,350.20 107.71,352.07 108.33,353.96 108.96,355.88 109.58,357.82 110.21,359.77 110.83,361.75 111.46,363.74 112.08,365.75 112.71,367.78 113.33,369.81 113.96,371.86 114.58,373.92 115.21,375.99 115.83,378.06 116.46,380.14 117.08,382.22 117.71,384.30 118.33,386.38 118.96,388.45 119.58,390.52 120.21,392.58 120.83,394.63 121.46,396.68 122.08,398.70 122.71,400.72 123.33,402.71 123.96,404.69 124.58,406.64 125.21,408.58 125.83,410.48 126.46,412.37 127.08,414.22 127.71,416.05 128.34,417.84 128.96,419.60 129.59,421.33 130.21,423.03 130.84,424.69 131.46,426.31 132.09,427.90 132.71,429.45 133.34,430.96 133.96,432.43 134.59,433.86 135.21,435.25 135.84,436.60 136.46,437.91 137.09,439.18 137.71,440.41 138.34,441.60 138.96,442.75 139.59,443.85 140.21,444.92 140.84,445.95 141.46,446.95 142.09,447.90 142.71,448.81 143.34,449.69 143.96,450.54 144.59,451.35 145.21,452.12 145.84,452.86 146.46,453.57 147.09,454.24 147.71,454.89 148.34,455.50 148.96,456.09 149.59,456.65 150.21,457.18 150.84,457.68 151.46,458.16 152.09,458.62 152.71,459.05 153.34,459.46 153.96,459.85 154.59,460.21 155.21,460.56 155.84,460.89 156.46,461.20 157.09,461.49 157.71,461.77 158.34,462.03 158.96,462.28 159.59,462.51 160.21,462.73 160.84,462.94 161.46,463.13 162.09,463.31 162.71,463.49 163.34,463.65 163.96,463.80 164.59,463.94 165.22,464.08 165.84,464.20 166.47,464.32 167.09,464.43 167.72,464.53 168.34,464.63 168.97,464.72 169.59,464.81 170.22,464.89 170.84,464.96 171.47,465.03 172.09,465.09 172.72,465.16 173.34,465.21 173.97,465.27 174.59,465.32 175.22,465.36 175.84,465.41 176.47,465.45 177.09,465.48 177.72,465.52 178.34,465.55 178.97,465.58 179.59,465.61 180.22,465.64 180.84,465.66 181.47,465.69 182.09,465.71 182.72,465.73 183.34,465.75 183.97,465.77 184.59,465.78 185.22,465.80 185.84,465.81 186.47,465.82 187.09,465.84 187.72,465.85 188.34,465.86 188.97,465.87 189.59,465.88 190.22,465.89 190.84,465.89 191.47,465.90 192.09,465.91 192.72,465.92 193.34,465.92 193.97,465.93 194.59,465.93 195.22,465.94 195.84,465.94 196.47,465.95 197.09,465.95 197.72,465.95 198.34,465.96 198.97,465.96 199.59,465.96 200.22,465.97 200.84,465.97 201.47,465.97 202.09,465.97 202.72,465.97 203.35,465.98 203.97,465.98 204.60,465.98 205.22,465.98 205.85,465.98 206.47,465.98 207.10,465.98 207.72,465.99 208.35,465.99 208.97,465.99 209.60,465.99 210.22,465.99 210.85,465.99 211.47,465.99 212.10,465.99 212.72,465.99 213.35,465.99 213.97,465.99 214.60,465.99 215.22,465.99 215.85,465.99 216.47,465.99 217.10,466.00 217.72,466.00 218.35,466.00 218.97,466.00 219.60,466.00 220.22,466.00 220.85,466.00 221.47,466.00 222.10,466.00 222.72,466.00 223.35,466.00 223.97,466.00 224.60,466.00 225.22,466.00 225.85,466.00 226.47,466.00 227.10,466.00 227.72,466.00 228.35,466.00 228.97,466.00 229.60,466.00 230.22,466.00 230.85,466.00 231.47,466.00 232.10,466.00 232.72,466.00 233.35,466.00 233.97,466.00 234.60,466.00 235.22,466.00 235.85,466.00 236.47,466.00 237.10,466.00 237.72,466.00 238.35,466.00 238.97,466.00 239.60,466.00" fill="none" stroke="#0B4584" stroke-width="1.75"/>
<polyline points="52.70,465.98 53.33,465.98 53.95,465.98 54.58,465.97 55.20,465.97 55.83,465.97 56.45,465.97 57.08,465.97 57.70,465.96 58.33,465.96 58.95,465.96 59.58,465.95 60.20,465.95 60.83,465.95 61.45,465.94 62.08,465.94 62.70,465.93 63.33,465.93 63.95,465.92 64.58,465.92 65.20,465.91 65.83,465.91 66.45,465.90 67.08,465.89 67.70,465.88 68.33,465.87 68.95,465.86 69.58,465.85 70.20,465.84 70.83,465.83 71.45,465.82 72.08,465.80 72.70,465.79 73.33,465.77 73.95,465.76 74.58,465.74 75.20,465.72 75.83,465.70 76.45,465.68 77.08,465.65 77.70,465.63 78.33,465.60 78.95,465.57 79.58,465.54 80.20,465.50 80.83,465.46 81.45,465.43 82.08,465.38 82.70,465.34 83.33,465.29 83.95,465.24 84.58,465.18 85.20,465.12 85.83,465.06 86.45,464.99 87.08,464.92 87.70,464.84 88.33,464.76 88.95,464.67 89.58,464.58 90.21,464.48 90.83,464.37 91.46,464.26 92.08,464.14 92.71,464.01 93.33,463.87 93.96,463.72 94.58,463.56 95.21,463.40 95.83,463.22 96.46,463.03 97.08,462.83 97.71,462.62 98.33,462.39 98.96,462.15 99.58,461.90 100.21,461.63 100.83,461.34 101.46,461.04 102.08,460.72 102.71,460.38 103.33,460.02 103.96,459.64 104.58,459.24 105.21,458.82 105.83,458.38 106.46,457.91 107.08,457.42 107.71,456.90 108.33,456.36 108.96,455.78 109.58,455.18 110.21,454.55 110.83,453.89 111.46,453.20 112.08,452.47 112.71,451.71 113.33,450.92 113.96,450.10 114.58,449.23 115.21,448.34 115.83,447.40 116.46,446.43 117.08,445.41 117.71,444.36 118.33,443.27 118.96,442.14 119.58,440.97 120.21,439.76 120.83,438.51 121.46,437.22 122.08,435.89 122.71,434.52 123.33,433.11 123.96,431.66 124.58,430.16 125.21,428.63 125.83,427.07 126.46,425.46 127.08,423.82 127.71,422.14 128.34,420.42 128.96,418.68 129.59,416.90 130.21,415.09 130.84,413.24 131.46,411.38 132.09,409.48 132.71,407.56 133.34,405.61 133.96,403.65 134.59,401.66 135.21,399.65 135.84,397.63 136.46,395.60 137.09,393.55 137.71,391.49 138.34,389.43 138.96,387.35 139.59,385.28 140.21,383.20 140.84,381.12 141.46,379.04 142.09,376.96 142.71,374.89 143.34,372.83 143.96,370.78 144.59,368.74 145.21,366.70 145.84,364.69 146.46,362.69 147.09,360.70 147.71,358.74 148.34,356.79 148.96,354.86 149.59,352.96 150.21,351.08 150.84,349.23 151.46,347.40 152.09,345.59 152.71,343.82 153.34,342.07 153.96,340.35 154.59,338.66 155.21,337.00 155.84,335.37 156.46,333.77 157.09,332.20 157.71,330.66 158.34,329.15 158.96,327.68 159.59,326.23 160.21,324.82 160.84,323.44 161.46,322.09 162.09,320.77 162.71,319.48 163.34,318.23 163.96,317.00 164.59,315.81 165.22,314.65 165.84,313.51 166.47,312.41 167.09,311.33 167.72,310.29 168.34,309.27 168.97,308.28 169.59,307.32 170.22,306.38 170.84,305.47 171.47,304.59 172.09,303.73 172.72,302.90 173.34,302.09 173.97,301.31 174.59,300.55 175.22,299.81 175.84,299.10 176.47,298.41 177.09,297.73 177.72,297.08 178.34,296.45 178.97,295.84 179.59,295.25 180.22,294.68 180.84,294.13 181.47,293.59 182.09,293.07 182.72,292.57 183.34,292.08 183.97,291.61 184.59,291.16 185.22,290.72 185.84,290.30 186.47,289.89 187.09,289.49 187.72,289.11 188.34,288.74 188.97,288.38 189.59,288.03 190.22,287.70 190.84,287.37 191.47,287.06 192.09,286.76 192.72,286.47 193.34,286.19 193.97,285.92 194.59,285.66 195.22,285.41 195.84,285.16 196.47,284.93 197.09,284.70 197.72,284.48 198.34,284.27 198.97,284.07 199.59,283.87 200.22,283.68 200.84,283.50 201.47,283.32 202.09,283.15 202.72,282.99 203.35,282.83 203.97,282.67 204.60,282.53 205.22,282.38 205.85,282.25 206.47,282.12 207.10,281.99 207.72,281.86 208.35,281.75 208.97,281.63 209.60,281.52 210.22,281.42 210.85,281.31 211.47,281.21 212.10,281.12 212.72,281.03 213.35,280.94 213.97,280.85 214.60,280.77 215.22,280.69 215.85,280.62 216.47,280.54 217.10,280.47 217.72,280.40 218.35,280.34 218.97,280.27 219.60,280.21 220.22,280.15 220.85,280.10 221.47,280.04 222.10,279.99 222.72,279.94 223.35,279.89 223.97,279.84 224.60,279.80 225.22,279.75 225.85,279.71 226.47,279.67 227.10,279.63 227.72,279.59 228.35,279.56 228.97,279.52 229.60,279.49 230.22,279.46 230.85,279.42 231.47,279.39 232.10,279.37 232.72,279.34 233.35,279.31 233.97,279.28 234.60,279.26 235.22,279.23 235.85,279.21 236.47,279.19 237.10,279.17 237.72,279.15 238.35,279.13 238.97,279.11 239.60,279.09" fill="none" stroke="#C8102E" stroke-width="1.75"/>
<line x1="128.75" y1="279.00" x2="128.75" y2="466.00" stroke="#F7941D" stroke-width="1.5" stroke-dasharray="4 3.2" stroke-dashoffset="1.6"/>
<text x="102.30" y="297.20" font-size="12.5" text-anchor="start" font-weight="normal" fill="#F7941D" font-family='"Liberation Sans", sans-serif' >F</text>
<text x="110.60" y="300.20" font-size="10" text-anchor="start" font-weight="normal" fill="#F7941D" font-family='"Liberation Sans", sans-serif' letter-spacing="0.4">1/2</text>
<circle cx="95.5" cy="423.4" r="2.75" fill="#3AB54A"/>
<circle cx="103.2" cy="411.5" r="2.75" fill="#3AB54A"/>
<circle cx="118.6" cy="369.2" r="2.75" fill="#3AB54A"/>
<circle cx="127.2" cy="345.4" r="2.75" fill="#3AB54A"/>
<circle cx="135.9" cy="362.6" r="2.75" fill="#3AB54A"/>
<circle cx="143.8" cy="376.8" r="2.75" fill="#3AB54A"/>
<circle cx="151.5" cy="385.6" r="2.75" fill="#3AB54A"/>
<circle cx="160.1" cy="421.2" r="2.75" fill="#3AB54A"/>
<circle cx="166.7" cy="444.9" r="2.75" fill="#3AB54A"/>
<circle cx="175" cy="451.9" r="2.75" fill="#3AB54A"/>
<circle cx="182.7" cy="456.3" r="2.75" fill="#3AB54A"/>
<circle cx="94.9" cy="322" r="2.75" fill="#0B4584"/>
<circle cx="103" cy="334.5" r="2.75" fill="#0B4584"/>
<circle cx="118.6" cy="396.2" r="2.75" fill="#0B4584"/>
<circle cx="127.2" cy="429.5" r="2.75" fill="#0B4584"/>
<circle cx="135.9" cy="442.3" r="2.75" fill="#0B4584"/>
<circle cx="143.4" cy="460.3" r="2.75" fill="#0B4584"/>
<circle cx="151.5" cy="457.6" r="2.75" fill="#0B4584"/>
<circle cx="160.3" cy="464.2" r="2.75" fill="#0B4584"/>
<circle cx="167.3" cy="465.1" r="2.75" fill="#0B4584"/>
<circle cx="175" cy="465.1" r="2.75" fill="#0B4584"/>
<circle cx="182.7" cy="465.1" r="2.75" fill="#0B4584"/>
<circle cx="94.9" cy="465.6" r="2.75" fill="#C8102E"/>
<circle cx="103" cy="465.6" r="2.75" fill="#C8102E"/>
<circle cx="118.6" cy="446" r="2.75" fill="#C8102E"/>
<circle cx="127.2" cy="436.6" r="2.75" fill="#C8102E"/>
<circle cx="135.9" cy="406.7" r="2.75" fill="#C8102E"/>
<circle cx="143.4" cy="374.2" r="2.75" fill="#C8102E"/>
<circle cx="151.5" cy="368.3" r="2.75" fill="#C8102E"/>
<circle cx="159.6" cy="325.5" r="2.75" fill="#C8102E"/>
<circle cx="166.7" cy="301.4" r="2.75" fill="#C8102E"/>
<circle cx="176.3" cy="294.2" r="2.75" fill="#C8102E"/>
<circle cx="183.1" cy="289.4" r="2.75" fill="#C8102E"/>
<circle cx="206.5" cy="348.5" r="2.9" fill="#C8102E"/>
<text x="214.20" y="351.80" font-size="10" text-anchor="start" font-weight="normal" fill="#000" font-family='"Liberation Sans", sans-serif' >Top</text>
<circle cx="206.5" cy="362.6" r="2.9" fill="#3AB54A"/>
<text x="214.20" y="365.90" font-size="10" text-anchor="start" font-weight="normal" fill="#000" font-family='"Liberation Sans", sans-serif' >Middle</text>
<circle cx="206.5" cy="376.8" r="2.9" fill="#0B4584"/>
<text x="214.20" y="380.10" font-size="10" text-anchor="start" font-weight="normal" fill="#000" font-family='"Liberation Sans", sans-serif' >Bottom</text>
<line x1="317.40" y1="270.80" x2="317.40" y2="466.00" stroke="#000" stroke-width="1.5" />
<line x1="316.65" y1="465.30" x2="509.50" y2="465.30" stroke="#000" stroke-width="1.5" />
<line x1="313.80" y1="447.32" x2="317.40" y2="447.32" stroke="#000" stroke-width="1.1" />
<line x1="313.80" y1="433.29" x2="317.40" y2="433.29" stroke="#000" stroke-width="1.1" />
<line x1="313.80" y1="422.41" x2="317.40" y2="422.41" stroke="#000" stroke-width="1.1" />
<line x1="313.80" y1="413.51" x2="317.40" y2="413.51" stroke="#000" stroke-width="1.1" />
<line x1="313.80" y1="406.00" x2="317.40" y2="406.00" stroke="#000" stroke-width="1.1" />
<line x1="313.80" y1="399.48" x2="317.40" y2="399.48" stroke="#000" stroke-width="1.1" />
<line x1="313.80" y1="393.74" x2="317.40" y2="393.74" stroke="#000" stroke-width="1.1" />
<line x1="313.80" y1="388.60" x2="317.40" y2="388.60" stroke="#000" stroke-width="1.1" />
<line x1="313.80" y1="354.79" x2="317.40" y2="354.79" stroke="#000" stroke-width="1.1" />
<line x1="313.80" y1="335.02" x2="317.40" y2="335.02" stroke="#000" stroke-width="1.1" />
<line x1="313.80" y1="320.99" x2="317.40" y2="320.99" stroke="#000" stroke-width="1.1" />
<line x1="313.80" y1="310.11" x2="317.40" y2="310.11" stroke="#000" stroke-width="1.1" />
<line x1="313.80" y1="301.21" x2="317.40" y2="301.21" stroke="#000" stroke-width="1.1" />
<line x1="313.80" y1="293.70" x2="317.40" y2="293.70" stroke="#000" stroke-width="1.1" />
<line x1="313.80" y1="287.18" x2="317.40" y2="287.18" stroke="#000" stroke-width="1.1" />
<line x1="313.80" y1="281.44" x2="317.40" y2="281.44" stroke="#000" stroke-width="1.1" />
<text x="309.00" y="426.01" font-size="10.5" text-anchor="end" font-weight="normal" fill="#000" font-family='"Liberation Sans", sans-serif' >0.5</text>
<text x="309.00" y="392.20" font-size="10.5" text-anchor="end" font-weight="normal" fill="#000" font-family='"Liberation Sans", sans-serif' >1</text>
<text x="309.00" y="313.71" font-size="10.5" text-anchor="end" font-weight="normal" fill="#000" font-family='"Liberation Sans", sans-serif' >5</text>
<line x1="343.50" y1="465.30" x2="343.50" y2="469.60" stroke="#000" stroke-width="1.2" />
<text x="343.50" y="482.60" font-size="10.5" text-anchor="middle" font-weight="normal" fill="#000" font-family='"Liberation Sans", sans-serif' >7</text>
<line x1="396.92" y1="465.30" x2="396.92" y2="469.60" stroke="#000" stroke-width="1.2" />
<text x="396.92" y="482.60" font-size="10.5" text-anchor="middle" font-weight="normal" fill="#000" font-family='"Liberation Sans", sans-serif' >8</text>
<line x1="450.34" y1="465.30" x2="450.34" y2="469.60" stroke="#000" stroke-width="1.2" />
<text x="450.34" y="482.60" font-size="10.5" text-anchor="middle" font-weight="normal" fill="#000" font-family='"Liberation Sans", sans-serif' >9</text>
<line x1="503.76" y1="465.30" x2="503.76" y2="469.60" stroke="#000" stroke-width="1.2" />
<text x="503.76" y="482.60" font-size="10.5" text-anchor="middle" font-weight="normal" fill="#000" font-family='"Liberation Sans", sans-serif' >10</text>
<text transform="translate(392.00,499.60) scale(0.735,1)" font-size="12" text-anchor="start" font-weight="normal" fill="#000" stroke="#000" stroke-width="0.3" font-family='"Liberation Sans", sans-serif'>Force (pN)</text>
<text transform="translate(284.60,397.30) rotate(-90) scale(0.755,1)" font-size="12" text-anchor="start" font-weight="normal" fill="#000" stroke="#000" stroke-width="0.3" font-family='"Liberation Sans", sans-serif'>Dwelltimes (s)</text>
<line x1="322.70" y1="428.80" x2="497.50" y2="290.75" stroke="#0B4584" stroke-width="1.75" />
<line x1="317.30" y1="319.00" x2="497.20" y2="465.50" stroke="#0B4584" stroke-width="1.75" />
<circle cx="322.4" cy="317.7" r="2.75" fill="#0B4584"/>
<circle cx="337.3" cy="325.1" r="2.75" fill="#0B4584"/>
<circle cx="355.3" cy="344.6" r="2.75" fill="#0B4584"/>
<circle cx="369.2" cy="379.2" r="2.75" fill="#0B4584"/>
<circle cx="385.8" cy="377.7" r="2.75" fill="#0B4584"/>
<circle cx="403.75" cy="392.5" r="2.75" fill="#0B4584"/>
<circle cx="419.25" cy="407.5" r="2.75" fill="#0B4584"/>
<circle cx="435" cy="416.25" r="2.75" fill="#0B4584"/>
<circle cx="451.25" cy="424.5" r="2.75" fill="#0B4584"/>
<circle cx="465" cy="442.5" r="2.75" fill="#0B4584"/>
<circle cx="482.5" cy="451.25" r="2.75" fill="#0B4584"/>
<circle cx="497" cy="449.25" r="2.75" fill="#0B4584"/>
<circle cx="322.7" cy="419.2" r="2.45" fill="#fff" stroke="#0B4584" stroke-width="1.2"/>
<circle cx="337.2" cy="413.4" r="2.45" fill="#fff" stroke="#0B4584" stroke-width="1.2"/>
<circle cx="355.5" cy="387.5" r="2.45" fill="#fff" stroke="#0B4584" stroke-width="1.2"/>
<circle cx="368.8" cy="405.3" r="2.45" fill="#fff" stroke="#0B4584" stroke-width="1.2"/>
<circle cx="385.9" cy="383.0" r="2.45" fill="#fff" stroke="#0B4584" stroke-width="1.2"/>
<circle cx="403.75" cy="374.25" r="2.45" fill="#fff" stroke="#0B4584" stroke-width="1.2"/>
<circle cx="419.25" cy="356.75" r="2.45" fill="#fff" stroke="#0B4584" stroke-width="1.2"/>
<circle cx="435" cy="365" r="2.45" fill="#fff" stroke="#0B4584" stroke-width="1.2"/>
<circle cx="451.25" cy="332.5" r="2.45" fill="#fff" stroke="#0B4584" stroke-width="1.2"/>
<circle cx="464.5" cy="308.75" r="2.45" fill="#fff" stroke="#0B4584" stroke-width="1.2"/>
<circle cx="482.5" cy="293.25" r="2.45" fill="#fff" stroke="#0B4584" stroke-width="1.2"/>
<circle cx="497" cy="278.75" r="2.45" fill="#fff" stroke="#0B4584" stroke-width="1.2"/>
<circle cx="472.5" cy="362.5" r="2.45" fill="#fff" stroke="#0B4584" stroke-width="1.2"/>
<circle cx="472.5" cy="377.0" r="2.8" fill="#0B4584"/>
<text x="479.60" y="365.90" font-size="10" text-anchor="start" font-weight="normal" fill="#000" font-family='"Liberation Sans", sans-serif' >Open</text>
<text x="479.60" y="380.20" font-size="10" text-anchor="start" font-weight="normal" fill="#000" font-family='"Liberation Sans", sans-serif' >Closed</text>
<rect x="79.8" y="686.02" width="16.9" height="42.08" fill="#F2C690"/>
<rect x="98.1" y="700.05" width="16.9" height="28.05" fill="#F2C690"/>
<rect x="116.4" y="629.93" width="16.9" height="98.17" fill="#F2C690"/>
<rect x="134.7" y="559.80" width="16.9" height="168.30" fill="#F2C690"/>
<rect x="153.0" y="657.98" width="16.9" height="70.12" fill="#F2C690"/>
<rect x="171.2" y="686.02" width="16.9" height="42.08" fill="#F2C690"/>
<rect x="207.3" y="714.08" width="16.9" height="14.02" fill="#F2C690"/>
<polyline points="75.20,727.69 75.86,727.64 76.52,727.59 77.18,727.52 77.85,727.45 78.51,727.37 79.17,727.28 79.83,727.19 80.49,727.08 81.15,726.96 81.82,726.83 82.48,726.69 83.14,726.53 83.80,726.35 84.46,726.16 85.12,725.95 85.79,725.72 86.45,725.47 87.11,725.20 87.77,724.90 88.43,724.58 89.09,724.23 89.76,723.85 90.42,723.43 91.08,722.98 91.74,722.50 92.40,721.98 93.06,721.41 93.73,720.81 94.39,720.15 95.05,719.45 95.71,718.70 96.37,717.90 97.03,717.05 97.70,716.13 98.36,715.15 99.02,714.12 99.68,713.01 100.34,711.84 101.00,710.61 101.67,709.29 102.33,707.91 102.99,706.45 103.65,704.91 104.31,703.30 104.97,701.60 105.63,699.82 106.30,697.96 106.96,696.01 107.62,693.98 108.28,691.87 108.94,689.67 109.60,687.39 110.27,685.02 110.93,682.57 111.59,680.04 112.25,677.43 112.91,674.75 113.57,671.99 114.24,669.16 114.90,666.26 115.56,663.30 116.22,660.28 116.88,657.20 117.54,654.07 118.21,650.90 118.87,647.69 119.53,644.45 120.19,641.19 120.85,637.90 121.51,634.61 122.18,631.31 122.84,628.02 123.50,624.74 124.16,621.48 124.82,618.26 125.48,615.07 126.15,611.93 126.81,608.85 127.47,605.84 128.13,602.90 128.79,600.04 129.45,597.28 130.12,594.63 130.78,592.08 131.44,589.65 132.10,587.35 132.76,585.19 133.42,583.17 134.08,581.29 134.75,579.58 135.41,578.02 136.07,576.64 136.73,575.42 137.39,574.38 138.05,573.53 138.72,572.85 139.38,572.37 140.04,572.07 140.70,571.96 141.36,572.03 142.02,572.30 142.69,572.76 143.35,573.40 144.01,574.22 144.67,575.23 145.33,576.42 145.99,577.77 146.66,579.30 147.32,580.99 147.98,582.84 148.64,584.83 149.30,586.97 149.96,589.25 150.63,591.66 151.29,594.18 151.95,596.82 152.61,599.56 153.27,602.40 153.93,605.33 154.60,608.33 155.26,611.40 155.92,614.53 156.58,617.71 157.24,620.93 157.90,624.18 158.57,627.46 159.23,630.75 159.89,634.04 160.55,637.34 161.21,640.63 161.87,643.90 162.53,647.14 163.20,650.36 163.86,653.53 164.52,656.67 165.18,659.75 165.84,662.79 166.50,665.76 167.17,668.67 167.83,671.51 168.49,674.28 169.15,676.98 169.81,679.60 170.47,682.14 171.14,684.61 171.80,686.99 172.46,689.28 173.12,691.50 173.78,693.63 174.44,695.67 175.11,697.63 175.77,699.51 176.43,701.30 177.09,703.01 177.75,704.64 178.41,706.19 179.08,707.67 179.74,709.06 180.40,710.39 181.06,711.64 181.72,712.82 182.38,713.93 183.05,714.98 183.71,715.97 184.37,716.89 185.03,717.76 185.69,718.57 186.35,719.33 187.02,720.04 187.68,720.70 188.34,721.31 189.00,721.88 189.66,722.41 190.32,722.90 190.98,723.36 191.65,723.78 192.31,724.16 192.97,724.52 193.63,724.85 194.29,725.15 194.95,725.43 195.62,725.68 196.28,725.92 196.94,726.13 197.60,726.32 198.26,726.50 198.92,726.66 199.59,726.81 200.25,726.94 200.91,727.06 201.57,727.17 202.23,727.27 202.89,727.36 203.56,727.44 204.22,727.51 204.88,727.57 205.54,727.63 206.20,727.69 206.86,727.73" fill="none" stroke="#E4891E" stroke-width="2.0"/>
<line x1="52.90" y1="533.50" x2="52.90" y2="728.80" stroke="#000" stroke-width="1.5" />
<line x1="52.15" y1="728.00" x2="245.60" y2="728.00" stroke="#000" stroke-width="1.5" />
<line x1="48.60" y1="728.10" x2="52.90" y2="728.10" stroke="#000" stroke-width="1.2" />
<text x="44.60" y="731.80" font-size="10.5" text-anchor="end" font-weight="normal" fill="#000" font-family='"Liberation Sans", sans-serif' >0</text>
<line x1="48.60" y1="681.35" x2="52.90" y2="681.35" stroke="#000" stroke-width="1.2" />
<text x="44.60" y="685.05" font-size="10.5" text-anchor="end" font-weight="normal" fill="#000" font-family='"Liberation Sans", sans-serif' >0.1</text>
<line x1="48.60" y1="634.60" x2="52.90" y2="634.60" stroke="#000" stroke-width="1.2" />
<text x="44.60" y="638.30" font-size="10.5" text-anchor="end" font-weight="normal" fill="#000" font-family='"Liberation Sans", sans-serif' >0.2</text>
<line x1="48.60" y1="587.85" x2="52.90" y2="587.85" stroke="#000" stroke-width="1.2" />
<text x="44.60" y="591.55" font-size="10.5" text-anchor="end" font-weight="normal" fill="#000" font-family='"Liberation Sans", sans-serif' >0.3</text>
<line x1="48.60" y1="541.10" x2="52.90" y2="541.10" stroke="#000" stroke-width="1.2" />
<text x="44.60" y="544.80" font-size="10.5" text-anchor="end" font-weight="normal" fill="#000" font-family='"Liberation Sans", sans-serif' >0.4</text>
<line x1="75.20" y1="728.00" x2="75.20" y2="732.30" stroke="#000" stroke-width="1.2" />
<text x="75.20" y="744.30" font-size="10.5" text-anchor="middle" font-weight="normal" fill="#000" font-family='"Liberation Sans", sans-serif' >6</text>
<line x1="130.06" y1="728.00" x2="130.06" y2="732.30" stroke="#000" stroke-width="1.2" />
<text x="130.06" y="744.30" font-size="10.5" text-anchor="middle" font-weight="normal" fill="#000" font-family='"Liberation Sans", sans-serif' >8</text>
<line x1="184.92" y1="728.00" x2="184.92" y2="732.30" stroke="#000" stroke-width="1.2" />
<text x="184.92" y="744.30" font-size="10.5" text-anchor="middle" font-weight="normal" fill="#000" font-family='"Liberation Sans", sans-serif' >10</text>
<line x1="239.78" y1="728.00" x2="239.78" y2="732.30" stroke="#000" stroke-width="1.2" />
<text x="239.78" y="744.30" font-size="10.5" text-anchor="middle" font-weight="normal" fill="#000" font-family='"Liberation Sans", sans-serif' >12</text>
<text transform="translate(21.20,666.80) rotate(-90) scale(0.727,1)" font-size="12" text-anchor="start" font-weight="normal" fill="#000" stroke="#000" stroke-width="0.3" font-family='"Liberation Sans", sans-serif'>Relative frequency</text>
<text transform="translate(130.60,762.40) scale(0.8,1)" font-size="12" text-anchor="start" font-weight="normal" fill="#000" stroke="#000" stroke-width="0.3" font-family='"Liberation Sans", sans-serif'>F</text>
<text transform="translate(135.60,764.80) scale(0.8,1)" font-size="9" text-anchor="start" font-weight="normal" fill="#000" stroke="#000" stroke-width="0.3" font-family='"Liberation Sans", sans-serif'>1/2</text>
<text transform="translate(148.20,762.40) scale(0.735,1)" font-size="12" text-anchor="start" font-weight="normal" fill="#000" stroke="#000" stroke-width="0.3" font-family='"Liberation Sans", sans-serif'>(pN)</text>
<rect x="330.3" y="709.21" width="16.7" height="18.59" fill="#9DDBA5"/>
<rect x="348.5" y="653.46" width="16.7" height="74.34" fill="#9DDBA5"/>
<rect x="366.6" y="616.29" width="16.7" height="111.51" fill="#9DDBA5"/>
<rect x="384.7" y="560.53" width="16.7" height="167.26" fill="#9DDBA5"/>
<rect x="402.9" y="560.53" width="16.7" height="167.26" fill="#9DDBA5"/>
<rect x="421.1" y="690.63" width="16.7" height="37.17" fill="#9DDBA5"/>
<rect x="457.5" y="690.63" width="16.7" height="37.17" fill="#9DDBA5"/>
<polyline points="318.85,724.96 319.52,724.75 320.19,724.52 320.86,724.28 321.52,724.02 322.19,723.75 322.86,723.46 323.53,723.15 324.20,722.83 324.87,722.48 325.54,722.11 326.21,721.73 326.87,721.32 327.54,720.88 328.21,720.43 328.88,719.94 329.55,719.44 330.22,718.90 330.89,718.33 331.55,717.74 332.22,717.12 332.89,716.46 333.56,715.77 334.23,715.05 334.90,714.30 335.57,713.50 336.24,712.67 336.90,711.81 337.57,710.90 338.24,709.95 338.91,708.97 339.58,707.94 340.25,706.87 340.92,705.75 341.58,704.59 342.25,703.39 342.92,702.13 343.59,700.83 344.26,699.49 344.93,698.09 345.60,696.65 346.27,695.16 346.93,693.61 347.60,692.02 348.27,690.38 348.94,688.68 349.61,686.94 350.28,685.14 350.95,683.29 351.62,681.40 352.28,679.45 352.95,677.46 353.62,675.41 354.29,673.32 354.96,671.18 355.63,668.99 356.30,666.75 356.96,664.48 357.63,662.15 358.30,659.79 358.97,657.39 359.64,654.95 360.31,652.47 360.98,649.96 361.65,647.41 362.31,644.83 362.98,642.23 363.65,639.60 364.32,636.95 364.99,634.27 365.66,631.58 366.33,628.88 366.99,626.16 367.66,623.44 368.33,620.71 369.00,617.98 369.67,615.25 370.34,612.53 371.01,609.81 371.68,607.11 372.34,604.43 373.01,601.77 373.68,599.13 374.35,596.52 375.02,593.94 375.69,591.40 376.36,588.90 377.02,586.44 377.69,584.03 378.36,581.67 379.03,579.37 379.70,577.13 380.37,574.95 381.04,572.84 381.71,570.80 382.37,568.83 383.04,566.95 383.71,565.14 384.38,563.42 385.05,561.78 385.72,560.24 386.39,558.79 387.05,557.43 387.72,556.18 388.39,555.02 389.06,553.97 389.73,553.02 390.40,552.18 391.07,551.45 391.74,550.82 392.40,550.31 393.07,549.91 393.74,549.62 394.41,549.45 395.08,549.38 395.75,549.44 396.42,549.60 397.08,549.88 397.75,550.27 398.42,550.77 399.09,551.39 399.76,552.11 400.43,552.95 401.10,553.88 401.77,554.93 402.43,556.08 403.10,557.32 403.77,558.67 404.44,560.11 405.11,561.65 405.78,563.28 406.45,564.99 407.12,566.79 407.78,568.67 408.45,570.63 409.12,572.67 409.79,574.77 410.46,576.94 411.13,579.18 411.80,581.48 412.46,583.83 413.13,586.23 413.80,588.69 414.47,591.19 415.14,593.72 415.81,596.30 416.48,598.91 417.15,601.54 417.81,604.20 418.48,606.89 419.15,609.59 419.82,612.30 420.49,615.02 421.16,617.75 421.83,620.48 422.49,623.21 423.16,625.93 423.83,628.65 424.50,631.36 425.17,634.05 425.84,636.72 426.51,639.38 427.18,642.01 427.84,644.62 428.51,647.19 429.18,649.74 429.85,652.26 430.52,654.74 431.19,657.18 431.86,659.59 432.52,661.96 433.19,664.28 433.86,666.56 434.53,668.80 435.20,670.99 435.87,673.14 436.54,675.24 437.21,677.29 437.87,679.29 438.54,681.24 439.21,683.14 439.88,684.99 440.55,686.79 441.22,688.54 441.89,690.24 442.55,691.88 443.22,693.48 443.89,695.03 444.56,696.53 445.23,697.97 445.90,699.37 446.57,700.72 447.24,702.03 447.90,703.28 448.57,704.49 449.24,705.66 449.91,706.78 450.58,707.85 451.25,708.88 451.92,709.87 452.58,710.82 453.25,711.73 453.92,712.60 454.59,713.43 455.26,714.23 455.93,714.99 456.60,715.71 457.27,716.40 457.93,717.06 458.60,717.69 459.27,718.29 459.94,718.85 460.61,719.39 461.28,719.90 461.95,720.39 462.62,720.85 463.28,721.28 463.95,721.69 464.62,722.08 465.29,722.45 465.96,722.80 466.63,723.13 467.30,723.43 467.96,723.73 468.63,724.00 469.30,724.26 469.97,724.50 470.64,724.73 471.31,724.94 471.98,725.14 472.65,725.33 473.31,725.51 473.98,725.67 474.65,725.83 475.32,725.97 475.99,726.11 476.66,726.23 477.33,726.35 477.99,726.46 478.66,726.56 479.33,726.66 480.00,726.75 480.67,726.83 481.34,726.90 482.01,726.98 482.68,727.04 483.34,727.10 484.01,727.16 484.68,727.21 485.35,727.26" fill="none" stroke="#27AC37" stroke-width="2.1"/>
<line x1="318.00" y1="533.50" x2="318.00" y2="728.50" stroke="#000" stroke-width="1.5" />
<line x1="317.25" y1="727.80" x2="509.50" y2="727.80" stroke="#000" stroke-width="1.5" />
<line x1="313.60" y1="727.80" x2="318.00" y2="727.80" stroke="#000" stroke-width="1.2" />
<text x="309.40" y="731.50" font-size="10.5" text-anchor="end" font-weight="normal" fill="#000" font-family='"Liberation Sans", sans-serif' >0</text>
<line x1="313.60" y1="665.85" x2="318.00" y2="665.85" stroke="#000" stroke-width="1.2" />
<text x="309.40" y="669.55" font-size="10.5" text-anchor="end" font-weight="normal" fill="#000" font-family='"Liberation Sans", sans-serif' >0.1</text>
<line x1="313.60" y1="603.90" x2="318.00" y2="603.90" stroke="#000" stroke-width="1.2" />
<text x="309.40" y="607.60" font-size="10.5" text-anchor="end" font-weight="normal" fill="#000" font-family='"Liberation Sans", sans-serif' >0.2</text>
<line x1="313.60" y1="541.95" x2="318.00" y2="541.95" stroke="#000" stroke-width="1.2" />
<text x="309.40" y="545.65" font-size="10.5" text-anchor="end" font-weight="normal" fill="#000" font-family='"Liberation Sans", sans-serif' >0.3</text>
<line x1="335.50" y1="727.80" x2="335.50" y2="732.20" stroke="#000" stroke-width="1.2" />
<text x="335.50" y="744.30" font-size="10.5" text-anchor="middle" font-weight="normal" fill="#000" font-family='"Liberation Sans", sans-serif' >4</text>
<line x1="368.80" y1="727.80" x2="368.80" y2="732.20" stroke="#000" stroke-width="1.2" />
<text x="368.80" y="744.30" font-size="10.5" text-anchor="middle" font-weight="normal" fill="#000" font-family='"Liberation Sans", sans-serif' >6</text>
<line x1="402.10" y1="727.80" x2="402.10" y2="732.20" stroke="#000" stroke-width="1.2" />
<text x="402.10" y="744.30" font-size="10.5" text-anchor="middle" font-weight="normal" fill="#000" font-family='"Liberation Sans", sans-serif' >8</text>
<line x1="435.40" y1="727.80" x2="435.40" y2="732.20" stroke="#000" stroke-width="1.2" />
<text x="435.40" y="744.30" font-size="10.5" text-anchor="middle" font-weight="normal" fill="#000" font-family='"Liberation Sans", sans-serif' >10</text>
<line x1="468.70" y1="727.80" x2="468.70" y2="732.20" stroke="#000" stroke-width="1.2" />
<text x="468.70" y="744.30" font-size="10.5" text-anchor="middle" font-weight="normal" fill="#000" font-family='"Liberation Sans", sans-serif' >12</text>
<text transform="translate(286.50,667.50) rotate(-90) scale(0.727,1)" font-size="12" text-anchor="start" font-weight="normal" fill="#000" stroke="#000" stroke-width="0.3" font-family='"Liberation Sans", sans-serif'>Relative frequency</text>
<text transform="translate(395.80,763.40) scale(0.85,1)" font-size="12" text-anchor="start" font-weight="normal" fill="#000" stroke="#000" stroke-width="0.3" font-family='"Liberation Serif", serif'>Δ</text>
<text transform="translate(402.20,763.40) scale(0.735,1)" font-size="12" text-anchor="start" font-weight="normal" fill="#000" stroke="#000" stroke-width="0.3" font-family='"Liberation Sans", sans-serif'>z (nm)</text>
</svg>
</body></html>
